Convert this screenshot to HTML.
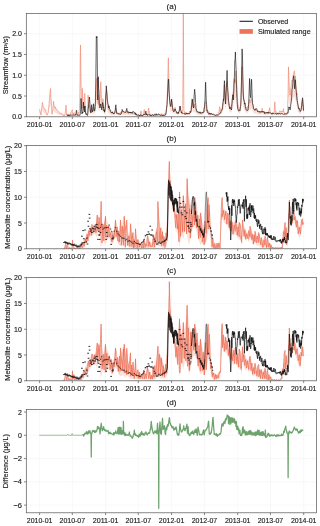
<!DOCTYPE html>
<html><head><meta charset="utf-8"><style>
html,body{margin:0;padding:0;background:#fff;}
svg{display:block;will-change:transform;}
text{font-family:"Liberation Sans", sans-serif;font-size:7px;fill:#1a1a1a;stroke:#1a1a1a;stroke-width:0.14px;}
</style></head><body>
<svg width="320" height="526" viewBox="0 0 320 526">
<rect width="320" height="526" fill="#fff"/>
<clipPath id="clip0"><rect x="26.3" y="13.6" width="290.2" height="103.2"/></clipPath>
<path d="M39.6 13.6V116.8M72.32 13.6V116.8M105.58 13.6V116.8M138.3 13.6V116.8M171.56 13.6V116.8M204.46 13.6V116.8M237.72 13.6V116.8M270.44 13.6V116.8M303.7 13.6V116.8M26.3 116.8H316.5M26.3 96.03H316.5M26.3 75.25H316.5M26.3 54.48H316.5M26.3 33.7H316.5" stroke="#f3f3f3" stroke-width="0.6" fill="none"/>
<g clip-path="url(#clip0)"><path d="M39.5 109.4L40 111.13L40.5 113L41 115L41.5 108.99L42 106.03L42.25 102.5L42.5 102.49L43 106L43.5 107.26L44 108L44.5 109.23L45 110L45.5 109.58L46 112L46.5 113.41L47 115L47.5 114.02L48 113L48.5 108.37L49 105L49.5 97.46L50 93.27L50.4 88.5L50.5 88.75L51 98.66L51.2 100L51.5 105.65L52 114L52.5 111.33L53 108L53.5 101.3L54 105.23L54.5 106L55 108.04L55.5 107L56 109.51L56.5 109.21L57 110L57.5 110.63L58 111.24L58.5 111.45L59 112L59.5 113.26L60 112.8L60.5 112.98L61 113.5L61.5 113.31L62 114.48L62.5 114.47L63 114.5L63.5 115.58L64 114.77L64.5 115.68L65 114.5L65.5 110.92L66 105L66.5 111.78L66.6 114L67 115.37L67.5 113.88L68 114.5L68.5 114.45L69 114.91L69.5 114.64L70 115L70.5 113.49L71 111.91L71.5 111.55L72 110.65L72.2 109.7L72.5 112.51L72.8 114.5L73 114.72L73.5 113.36L74 112.5L74.5 114.21L75 115L75.5 114.32L76 115.73L76.5 115.21L77 114.5L77.5 114.66L78 114.97L78.5 112.22L79 113L79.5 107.56L79.8 100L80 80.74L80.2 60L80.5 45L80.9 70L81 78.95L81.3 100L81.5 101.19L81.8 108L82 102.9L82.3 88.3L82.5 93.15L82.8 105L83 107.4L83.4 110L83.5 108.89L84 103.34L84.2 100L84.5 95.62L84.8 93.3L85 100.55L85.4 110L85.5 110.73L86 114L86.5 114.05L87 114.5L87.5 108.35L87.7 108L88 101.95L88.1 95.1L88.5 103.77L88.6 108L89 105.53L89.4 105L89.5 106.39L90 110.01L90.2 112L90.5 111.59L91 110L91.5 107.1L91.7 108L92 109.32L92.5 112L93 110.17L93.5 108L94 109.2L94.5 110L95 107.97L95.4 106L95.5 104.37L96 95L96.5 85.2L96.7 78.3L97 79.29L97.3 90L97.5 97.38L97.8 100L98 103.51L98.3 95L98.5 98.39L98.8 103L99 103.97L99.3 105L99.5 102.54L99.8 100L100 96.34L100.3 90L100.5 87.01L100.8 81.7L101 86.29L101.3 95L101.5 97.58L101.8 105L102 106.66L102.3 108L102.5 105.74L102.9 100L103 98.76L103.5 108L104 109.72L104.2 111L104.5 111.97L104.8 111.5L105 107.36L105.4 105L105.5 101.87L106 92L106.5 90L107 98L107.5 104L108 107.1L108.3 108L108.5 109.4L109 108.91L109.5 110L110 111.31L110.5 112.1L111 112L111.5 113.21L112 113.03L112.5 112.36L113 113.4L113.5 113.56L114 114.09L114.5 112.68L115 113L115.5 109.82L115.8 108L116 108.42L116.5 112L117 111.56L117.5 112.83L118 113.17L118.5 113.47L119 113.8L119.5 114.18L120 112.79L120.5 112.03L121 112.49L121.5 112.46L122 112L122.5 112.3L123 112.78L123.5 112.91L124 112.5L124.5 112.5L125 112.54L125.5 111.99L126 112.55L126.5 110.88L126.75 111L127 111.26L127.5 112.7L128 112.5L128.5 114.07L129 112.63L129.5 111.97L130 113.22L130.5 113.12L131 113.24L131.5 112.52L132 113L132.5 113.69L133 112.65L133.5 113.56L134 113.5L134.5 113.21L135 113.98L135.5 114.38L136 114.5L136.5 115.45L137 115.21L137.5 115.16L138 115.2L138.5 114.87L139 115.08L139.5 115.55L140 115.2L140.5 113.12L140.6 113L141 110.77L141.1 111.1L141.5 114.14L141.6 114.8L142 115.03L142.5 115L143 114.38L143.5 114.8L144 110.87L144.25 109.5L144.5 112.2L144.9 114.8L145 114.59L145.5 114.99L146 115.08L146.5 113.98L147 114.15L147.5 114.92L147.8 114.5L148 112.82L148.5 108.37L148.6 108L149 110.79L149.3 112L149.5 112.79L150 114.5L150.5 114.23L151 115.61L151.5 114.58L152 114.45L152.5 114.66L153 115L153.5 115.68L154 114.84L154.5 115.44L155 114.71L155.5 114.69L156 115L156.5 114.86L157 115.34L157.5 115.23L158 114.46L158.5 115.34L159 114.59L159.5 114.56L160 114.8L160.5 114.98L161 113.63L161.5 114.86L162 113.83L162.5 115.99L163 115L163.5 115.92L164 113.97L164.5 113.9L165 114L165.5 112.95L165.8 112L166 110.9L166.5 108L167 101.79L167.5 90L168 71.22L168.1 65L168.4 57.8L168.5 65.69L168.7 70L169 83.05L169.3 95L169.5 95.59L170 101.93L170.2 104L170.5 105.1L170.8 107L171 105.82L171.5 100.78L171.6 99.2L172 102.95L172.3 106L172.5 107.64L173 110.8L173.5 109.41L174 110L174.5 110.12L174.8 109L175 107.3L175.2 108.9L175.5 110.5L176 111L176.5 111.27L177 113L177.5 113.61L178 112.26L178.5 113.4L179 111.1L179.5 109L180 106.3L180.5 109.05L180.6 110L181 110.79L181.5 113L182 113L182.5 112.87L182.7 112L183 74.24L183.05 60L183.3 10L183.5 44.62L183.55 60L183.9 110L184 110.82L184.5 112.06L185 113L185.5 113.09L186 111.9L186.5 114.26L187 113.11L187.5 113.57L188 113.4L188.5 112.98L189 114.31L189.5 113.35L190 113L190.5 111.42L191 111L191.5 102.8L191.7 102L192 98.74L192.3 99.8L192.5 102.69L193 106L193.5 107.61L193.6 108L194 106.66L194.5 106.27L194.7 104L195 107.05L195.5 108L196 108.87L196.5 111L197 111.36L197.5 112.16L198 112.6L198.5 111.84L199 113.32L199.5 112.36L200 112.73L200.5 112.8L201 112.8L201.5 112.41L202 112.54L202.5 112.4L203 112.5L203.5 110.8L204 107.88L204.5 108L205 105.7L205.5 101.47L205.6 102.2L206 104.1L206.5 108L207 109.79L207.5 111L208 110.93L208.5 112.59L209 111.74L209.5 113.51L210 113.5L210.5 113.95L211 113.65L211.5 113.53L212 113.66L212.5 113.84L213 114.5L213.5 114.69L214 115.17L214.5 114.46L215 114.68L215.5 115.41L216 115L216.5 114.37L217 114.65L217.5 115.13L218 114.5L218.5 112.34L219 111.76L219.2 110L219.5 108.83L219.7 106.7L220 107.99L220.3 110L220.5 111.2L221 109.74L221.5 109.6L222 109.07L222.5 106L223 102.33L223.4 101L223.5 100.45L224 91.05L224.4 85L224.5 89.98L225 95L225.5 99.67L225.6 100L226 93.03L226.5 88L227 81.46L227.1 81.5L227.5 91.47L227.8 92L228 92.67L228.5 100L229 102.27L229.5 106.7L230 107.71L230.5 108L231 105.6L231.5 106L232 103.1L232.2 100L232.5 98.81L232.7 97.8L233 92.52L233.4 90L233.5 85.93L234 78.79L234.2 79.3L234.5 82.53L234.8 80L235 83.37L235.5 75L236 71.01L236.2 71.1L236.5 81.95L236.8 85L237 89.27L237.3 95L237.5 99.83L238 105L238.5 106.27L239 109.6L239.5 109.14L240 110L240.5 104.38L241 100L241.5 83.29L241.6 80L242 69.21L242.1 66.7L242.5 76.42L242.7 80L243 86.67L243.3 95L243.5 96.02L244 100L244.5 101.41L245 104L245.5 106.45L246 108L246.5 107.35L247 110L247.5 108.42L248 105.98L248.5 106L249 101.32L249.5 101.15L249.6 99.3L250 102.82L250.5 102L251 98.23L251.5 98L252 101.52L252.5 104L253 105.91L253.5 108L254 109.22L254.5 110L255 109.69L255.5 109.6L256 110.59L256.5 109.6L257 110.15L257.5 110.89L258 111L258.5 111.26L259 113.18L259.5 111.17L260 112L260.5 111.43L261 112.59L261.5 111L262 109.24L262.1 108.1L262.5 110.68L262.7 112L263 111.7L263.5 112.35L264 111.66L264.5 112.77L265 113L265.5 113.68L266 113.52L266.5 112.69L267 113.58L267.5 112.73L268 113.3L268.5 111.57L269 110.78L269.1 111L269.5 107.78L269.6 108.1L270 110.83L270.2 112L270.5 112.26L271 113.05L271.5 113.46L272 113.5L272.5 114.13L273 113.17L273.5 113.18L274 113.11L274.2 112L274.5 106.7L274.8 101.7L275 104.63L275.4 112L275.5 112.31L276 111.56L276.5 112.25L277 112.59L277.5 113.97L278 114L278.5 114.24L279 112.31L279.5 112L280 110.7L280.5 112L281 111.79L281.5 111.5L282 111.71L282.5 111.13L282.8 112L283 111.15L283.4 108.8L283.5 108.77L284 112L284.5 113.09L285 114.45L285.5 113.77L286 114L286.5 112.79L287 114.35L287.5 113L288 95L288.5 66.8L289 80L289.5 92L290 92.91L290.1 95.2L290.5 92.41L290.8 88L291 87L291.4 82.3L291.5 81.9L292 80.03L292.2 80L292.5 81.13L293 76L293.5 73.37L293.6 73.3L294 71.96L294.5 70.79L294.6 73.3L295 78.14L295.3 78L295.5 76.27L296 86L296.5 87.98L296.8 95L297 93.16L297.5 102L298 106.03L298.5 107L299 108.34L299.5 110L300 111.81L300.5 110.7L301 108.68L301.3 108L301.5 105.71L302 102L302.5 101.93L302.6 100L303 105.85L303.1 105L303.5 109.4L303.6 110.7L303.6 114.06L303.5 113.47L303.1 111.49L303 111.87L302.6 109.24L302.5 110.11L302 110.14L301.5 111.81L301.3 112.84L301 113.15L300.5 114.06L300 114.56L299.5 113.74L299 113L298.5 112.39L298 111.95L297.5 110.14L297 106.16L296.8 106.99L296.5 103.83L296 102.94L295.5 98.56L295.3 99.34L295 99.4L294.6 97.22L294.5 96.09L294 96.62L293.6 97.22L293.5 97.26L293 98.44L292.5 100.75L292.2 100.24L292 100.25L291.5 101.1L291.4 101.28L291 103.39L290.8 103.84L290.5 105.82L290.1 107.08L290 106.05L289.5 105.64L289 100.24L288.5 94.3L288 106.99L287.5 115.09L287 115.7L286.5 114.99L286 115.54L285.5 115.43L285 115.74L284.5 115.13L284 114.64L283.5 113.19L283.4 113.2L283 114.26L282.8 114.64L282.5 114.25L282 114.51L281.5 114.42L281 114.54L280.5 114.64L280 114.06L279.5 114.64L279 114.78L278.5 115.65L278 115.54L277.5 115.53L277 114.91L276.5 114.75L276 114.44L275.5 114.78L275.4 114.64L275 111.32L274.8 110L274.5 112.26L274.2 114.64L274 115.14L273.5 115.17L273 115.17L272.5 115.6L272 115.31L271.5 115.3L271 115.11L270.5 114.76L270.2 114.64L270 114.11L269.6 112.88L269.5 112.74L269.1 114.19L269 114.09L268.5 114.45L268 115.22L267.5 114.97L267 115.35L266.5 114.95L266 115.32L265.5 115.39L265 115.09L264.5 114.99L264 114.49L263.5 114.8L263 114.51L262.7 114.64L262.5 114.04L262.1 112.88L262 113.4L261.5 114.19L261 114.91L260.5 114.38L260 114.64L259.5 114.27L259 115.17L258.5 114.31L258 114.19L257.5 114.14L257 113.81L256.5 113.56L256 114.01L255.5 113.56L255 113.6L254.5 113.74L254 113.39L253.5 112.84L253 111.9L252.5 111.04L252 109.93L251.5 108.34L251 108.44L250.5 110.14L250 110.51L249.6 108.92L249.5 109.76L249 109.83L248.5 111.94L248 111.93L247.5 113.03L247 113.74L246.5 112.55L246 112.84L245.5 112.14L245 111.04L244.5 109.87L244 109.24L243.5 107.45L243.3 106.99L243 103.24L242.7 100.24L242.5 98.63L242.1 94.25L242 95.39L241.6 100.24L241.5 101.72L241 109.24L240.5 111.21L240 113.74L239.5 113.35L239 113.56L238.5 112.06L238 111.49L237.5 109.16L237.3 106.99L237 104.41L236.8 102.49L236.5 101.12L236.2 96.23L236 96.19L235.5 97.99L235 101.76L234.8 100.24L234.5 101.38L234.2 99.92L234 99.69L233.5 102.91L233.4 104.74L233 105.87L232.7 108.25L232.5 108.7L232.2 109.24L232 110.63L231.5 111.94L231 111.76L230.5 112.84L230 112.71L229.5 112.25L229 110.26L228.5 109.24L228 105.94L227.8 105.64L227.5 105.4L227.1 100.91L227 100.9L226.5 103.84L226 106.1L225.6 109.24L225.5 109.09L225 106.99L224.5 104.73L224.4 102.49L224 105.21L223.5 109.44L223.4 109.69L223 110.29L222.5 111.94L222 113.32L221.5 113.56L221 113.62L220.5 114.28L220.3 113.74L220 112.83L219.7 112.25L219.5 113.21L219.2 113.74L219 114.53L218.5 114.79L218 115.77L217.5 116.05L217 115.83L216.5 115.71L216 115.99L215.5 116.17L215 115.84L214.5 115.75L214 116.07L213.5 115.85L213 115.77L212.5 115.47L212 115.39L211.5 115.33L211 115.38L210.5 115.52L210 115.31L209.5 115.32L209 114.52L208.5 114.91L208 114.16L207.5 114.19L207 113.65L206.5 112.84L206 111.08L205.6 110.23L205.5 109.9L205 111.81L204.5 112.84L204 112.78L203.5 114.1L203 114.86L202.5 114.82L202 114.88L201.5 114.82L201 115L200.5 115L200 114.97L199.5 114.8L199 115.23L198.5 114.57L198 114.91L197.5 114.71L197 114.35L196.5 114.19L196 113.23L195.5 112.84L195 112.41L194.7 111.04L194.5 112.06L194 112.24L193.6 112.84L193.5 112.67L193 111.94L192.5 110.45L192.3 109.15L192 108.67L191.7 110.14L191.5 110.5L191 114.19L190.5 114.38L190 115.09L189.5 115.25L189 115.68L188.5 115.08L188 115.27L187.5 115.35L187 115.14L186.5 115.66L186 114.6L185.5 115.13L185 115.09L184.5 114.67L184 114.11L183.9 113.74L183.55 91.24L183.5 84.32L183.3 68.74L183.05 91.24L183 97.65L182.7 114.64L182.5 115.03L182 115.09L181.5 115.09L181 114.1L180.6 113.74L180.5 113.31L180 112.08L179.5 113.29L179 114.23L178.5 115.27L178 114.76L177.5 115.37L177 115.09L176.5 114.31L176 114.19L175.5 113.96L175.2 113.25L175 112.53L174.8 113.29L174.5 113.79L174 113.74L173.5 113.47L173 114.1L172.5 112.68L172.3 111.94L172 110.57L171.6 108.88L171.5 109.59L171 111.86L170.8 112.39L170.5 111.53L170.2 111.04L170 110.11L169.5 107.26L169.3 106.99L169 101.61L168.7 95.74L168.5 93.8L168.4 90.25L168.1 93.49L168 96.29L167.5 104.74L167 110.05L166.5 112.84L166 114.14L165.8 114.64L165.5 115.07L165 115.54L164.5 115.49L164 115.53L163.5 116.41L163 115.99L162.5 116.44L162 115.47L161.5 115.93L161 115.37L160.5 115.98L160 115.9L159.5 115.79L159 115.81L158.5 116.14L158 115.75L157.5 116.09L157 116.14L156.5 115.93L156 115.99L155.5 115.85L155 115.86L154.5 116.19L154 115.92L153.5 116.3L153 115.99L152.5 115.84L152 115.74L151.5 115.8L151 116.27L150.5 115.64L150 115.77L149.5 115L149.3 114.64L149 114.1L148.6 112.84L148.5 113.01L148 115.01L147.8 115.77L147.5 115.95L147 115.61L146.5 115.53L146 116.03L145.5 115.99L145 115.81L144.9 115.9L144.5 114.73L144.25 113.52L144 114.13L143.5 115.9L143 115.71L142.5 115.99L142 116L141.6 115.9L141.5 115.6L141.1 114.23L141 114.09L140.6 115.09L140.5 115.14L140 116.08L139.5 116.24L139 116.03L138.5 115.93L138 116.08L137.5 116.06L137 116.08L136.5 116.19L136 115.77L135.5 115.71L135 115.53L134.5 115.18L134 115.31L133.5 115.34L133 114.93L132.5 115.4L132 115.09L131.5 114.88L131 115.2L130.5 115.14L130 115.19L129.5 114.63L129 114.92L128.5 115.57L128 114.86L127.5 114.95L127 114.31L126.75 114.19L126.5 114.13L126 114.89L125.5 114.64L125 114.88L124.5 114.86L124 114.86L123.5 115.05L123 114.99L122.5 114.78L122 114.64L121.5 114.85L121 114.86L120.5 114.65L120 114.99L119.5 115.62L119 115.45L118.5 115.3L118 115.17L117.5 115.01L117 114.44L116.5 114.64L116 113.03L115.8 112.84L115.5 113.66L115 115.09L114.5 114.95L114 115.58L113.5 115.34L113 115.27L112.5 114.8L112 115.1L111.5 115.19L111 114.64L110.5 114.69L110 114.33L109.5 113.74L109 113.25L108.5 113.47L108.3 112.84L108 112.43L107.5 111.04L107 108.34L106.5 104.74L106 105.64L105.5 110.08L105.4 111.49L105 112.55L104.8 114.41L104.5 114.63L104.2 114.19L104 113.61L103.5 112.84L103 108.68L102.9 109.24L102.5 111.82L102.3 112.84L102 112.24L101.8 111.49L101.5 108.15L101.3 106.99L101 103.07L100.8 101L100.5 103.39L100.3 104.74L100 107.59L99.8 109.24L99.5 110.38L99.3 111.49L99 111.03L98.8 110.59L98.5 108.51L98.3 106.99L98 110.82L97.8 109.24L97.5 108.06L97.3 104.74L97 99.92L96.7 99.47L96.5 102.58L96 106.99L95.5 111.21L95.4 111.94L95 112.82L94.5 113.74L94 113.38L93.5 112.84L93 113.82L92.5 114.64L92 113.44L91.7 112.84L91.5 112.43L91 113.74L90.5 114.46L90.2 114.64L90 113.74L89.5 112.11L89.4 111.49L89 111.73L88.6 112.84L88.5 110.94L88.1 107.03L88 110.12L87.7 112.84L87.5 113L87 115.77L86.5 115.56L86 115.54L85.5 114.07L85.4 113.74L85 109.49L84.8 106.22L84.5 107.27L84.2 109.24L84 110.74L83.5 113.24L83.4 113.74L83 112.57L82.8 111.49L82.5 106.16L82.3 103.97L82 110.55L81.8 112.84L81.5 109.77L81.3 109.24L81 99.77L80.9 95.74L80.5 84.49L80.2 91.24L80 100.57L79.8 109.24L79.5 112.64L79 115.09L78.5 114.74L78 115.98L77.5 115.84L77 115.77L76.5 116.08L76 116.32L75.5 115.69L75 115.99L74.5 115.63L74 114.86L73.5 115.25L73 115.86L72.8 115.77L72.5 114.87L72.2 113.61L72 114.03L71.5 114.44L71 114.6L70.5 115.31L70 115.99L69.5 115.83L69 115.95L68.5 115.74L68 115.77L67.5 115.49L67 116.16L66.6 115.54L66.5 114.54L66 111.49L65.5 114.15L65 115.77L64.5 116.3L64 115.89L63.5 116.25L63 115.77L62.5 115.75L62 115.76L61.5 115.23L61 115.31L60.5 115.08L60 115L59.5 115.21L59 114.64L58.5 114.39L58 114.3L57.5 114.03L57 113.74L56.5 113.38L56 113.52L55.5 112.39L55 112.86L54.5 111.94L54 111.6L53.5 109.83L53 112.84L52.5 114.34L52 115.54L51.5 111.78L51.2 109.24L51 108.64L50.5 104.18L50.4 104.06L50 106.21L49.5 108.1L49 111.49L48.5 113.01L48 115.09L47.5 115.55L47 115.99L46.5 115.27L46 114.64L45.5 113.55L45 113.74L44.5 113.39L44 112.84L43.5 112.51L43 111.94L42.5 110.36L42.25 110.36L42 111.95L41.5 113.29L41 115.99L40.5 115.09L40 114.25L39.5 113.47Z" fill="#f4a08a" fill-opacity="0.35" stroke="none"/>
<path d="M39.5 109.4L40 111.13L40.5 113L41 115L41.5 108.99L42 106.03L42.25 102.5L42.5 102.49L43 106L43.5 107.26L44 108L44.5 109.23L45 110L45.5 109.58L46 112L46.5 113.41L47 115L47.5 114.02L48 113L48.5 108.37L49 105L49.5 97.46L50 93.27L50.4 88.5L50.5 88.75L51 98.66L51.2 100L51.5 105.65L52 114L52.5 111.33L53 108L53.5 101.3L54 105.23L54.5 106L55 108.04L55.5 107L56 109.51L56.5 109.21L57 110L57.5 110.63L58 111.24L58.5 111.45L59 112L59.5 113.26L60 112.8L60.5 112.98L61 113.5L61.5 113.31L62 114.48L62.5 114.47L63 114.5L63.5 115.58L64 114.77L64.5 115.68L65 114.5L65.5 110.92L66 105L66.5 111.78L66.6 114L67 115.37L67.5 113.88L68 114.5L68.5 114.45L69 114.91L69.5 114.64L70 115L70.5 113.49L71 111.91L71.5 111.55L72 110.65L72.2 109.7L72.5 112.51L72.8 114.5L73 114.72L73.5 113.36L74 112.5L74.5 114.21L75 115L75.5 114.32L76 115.73L76.5 115.21L77 114.5L77.5 114.66L78 114.97L78.5 112.22L79 113L79.5 107.56L79.8 100L80 80.74L80.2 60L80.5 45L80.9 70L81 78.95L81.3 100L81.5 101.19L81.8 108L82 102.9L82.3 88.3L82.5 93.15L82.8 105L83 107.4L83.4 110L83.5 108.89L84 103.34L84.2 100L84.5 95.62L84.8 93.3L85 100.55L85.4 110L85.5 110.73L86 114L86.5 114.05L87 114.5L87.5 108.35L87.7 108L88 101.95L88.1 95.1L88.5 103.77L88.6 108L89 105.53L89.4 105L89.5 106.39L90 110.01L90.2 112L90.5 111.59L91 110L91.5 107.1L91.7 108L92 109.32L92.5 112L93 110.17L93.5 108L94 109.2L94.5 110L95 107.97L95.4 106L95.5 104.37L96 95L96.5 85.2L96.7 78.3L97 79.29L97.3 90L97.5 97.38L97.8 100L98 103.51L98.3 95L98.5 98.39L98.8 103L99 103.97L99.3 105L99.5 102.54L99.8 100L100 96.34L100.3 90L100.5 87.01L100.8 81.7L101 86.29L101.3 95L101.5 97.58L101.8 105L102 106.66L102.3 108L102.5 105.74L102.9 100L103 98.76L103.5 108L104 109.72L104.2 111L104.5 111.97L104.8 111.5L105 107.36L105.4 105L105.5 101.87L106 92L106.5 90L107 98L107.5 104L108 107.1L108.3 108L108.5 109.4L109 108.91L109.5 110L110 111.31L110.5 112.1L111 112L111.5 113.21L112 113.03L112.5 112.36L113 113.4L113.5 113.56L114 114.09L114.5 112.68L115 113L115.5 109.82L115.8 108L116 108.42L116.5 112L117 111.56L117.5 112.83L118 113.17L118.5 113.47L119 113.8L119.5 114.18L120 112.79L120.5 112.03L121 112.49L121.5 112.46L122 112L122.5 112.3L123 112.78L123.5 112.91L124 112.5L124.5 112.5L125 112.54L125.5 111.99L126 112.55L126.5 110.88L126.75 111L127 111.26L127.5 112.7L128 112.5L128.5 114.07L129 112.63L129.5 111.97L130 113.22L130.5 113.12L131 113.24L131.5 112.52L132 113L132.5 113.69L133 112.65L133.5 113.56L134 113.5L134.5 113.21L135 113.98L135.5 114.38L136 114.5L136.5 115.45L137 115.21L137.5 115.16L138 115.2L138.5 114.87L139 115.08L139.5 115.55L140 115.2L140.5 113.12L140.6 113L141 110.77L141.1 111.1L141.5 114.14L141.6 114.8L142 115.03L142.5 115L143 114.38L143.5 114.8L144 110.87L144.25 109.5L144.5 112.2L144.9 114.8L145 114.59L145.5 114.99L146 115.08L146.5 113.98L147 114.15L147.5 114.92L147.8 114.5L148 112.82L148.5 108.37L148.6 108L149 110.79L149.3 112L149.5 112.79L150 114.5L150.5 114.23L151 115.61L151.5 114.58L152 114.45L152.5 114.66L153 115L153.5 115.68L154 114.84L154.5 115.44L155 114.71L155.5 114.69L156 115L156.5 114.86L157 115.34L157.5 115.23L158 114.46L158.5 115.34L159 114.59L159.5 114.56L160 114.8L160.5 114.98L161 113.63L161.5 114.86L162 113.83L162.5 115.99L163 115L163.5 115.92L164 113.97L164.5 113.9L165 114L165.5 112.95L165.8 112L166 110.9L166.5 108L167 101.79L167.5 90L168 71.22L168.1 65L168.4 57.8L168.5 65.69L168.7 70L169 83.05L169.3 95L169.5 95.59L170 101.93L170.2 104L170.5 105.1L170.8 107L171 105.82L171.5 100.78L171.6 99.2L172 102.95L172.3 106L172.5 107.64L173 110.8L173.5 109.41L174 110L174.5 110.12L174.8 109L175 107.3L175.2 108.9L175.5 110.5L176 111L176.5 111.27L177 113L177.5 113.61L178 112.26L178.5 113.4L179 111.1L179.5 109L180 106.3L180.5 109.05L180.6 110L181 110.79L181.5 113L182 113L182.5 112.87L182.7 112L183 74.24L183.05 60L183.3 10L183.5 44.62L183.55 60L183.9 110L184 110.82L184.5 112.06L185 113L185.5 113.09L186 111.9L186.5 114.26L187 113.11L187.5 113.57L188 113.4L188.5 112.98L189 114.31L189.5 113.35L190 113L190.5 111.42L191 111L191.5 102.8L191.7 102L192 98.74L192.3 99.8L192.5 102.69L193 106L193.5 107.61L193.6 108L194 106.66L194.5 106.27L194.7 104L195 107.05L195.5 108L196 108.87L196.5 111L197 111.36L197.5 112.16L198 112.6L198.5 111.84L199 113.32L199.5 112.36L200 112.73L200.5 112.8L201 112.8L201.5 112.41L202 112.54L202.5 112.4L203 112.5L203.5 110.8L204 107.88L204.5 108L205 105.7L205.5 101.47L205.6 102.2L206 104.1L206.5 108L207 109.79L207.5 111L208 110.93L208.5 112.59L209 111.74L209.5 113.51L210 113.5L210.5 113.95L211 113.65L211.5 113.53L212 113.66L212.5 113.84L213 114.5L213.5 114.69L214 115.17L214.5 114.46L215 114.68L215.5 115.41L216 115L216.5 114.37L217 114.65L217.5 115.13L218 114.5L218.5 112.34L219 111.76L219.2 110L219.5 108.83L219.7 106.7L220 107.99L220.3 110L220.5 111.2L221 109.74L221.5 109.6L222 109.07L222.5 106L223 102.33L223.4 101L223.5 100.45L224 91.05L224.4 85L224.5 89.98L225 95L225.5 99.67L225.6 100L226 93.03L226.5 88L227 81.46L227.1 81.5L227.5 91.47L227.8 92L228 92.67L228.5 100L229 102.27L229.5 106.7L230 107.71L230.5 108L231 105.6L231.5 106L232 103.1L232.2 100L232.5 98.81L232.7 97.8L233 92.52L233.4 90L233.5 85.93L234 78.79L234.2 79.3L234.5 82.53L234.8 80L235 83.37L235.5 75L236 71.01L236.2 71.1L236.5 81.95L236.8 85L237 89.27L237.3 95L237.5 99.83L238 105L238.5 106.27L239 109.6L239.5 109.14L240 110L240.5 104.38L241 100L241.5 83.29L241.6 80L242 69.21L242.1 66.7L242.5 76.42L242.7 80L243 86.67L243.3 95L243.5 96.02L244 100L244.5 101.41L245 104L245.5 106.45L246 108L246.5 107.35L247 110L247.5 108.42L248 105.98L248.5 106L249 101.32L249.5 101.15L249.6 99.3L250 102.82L250.5 102L251 98.23L251.5 98L252 101.52L252.5 104L253 105.91L253.5 108L254 109.22L254.5 110L255 109.69L255.5 109.6L256 110.59L256.5 109.6L257 110.15L257.5 110.89L258 111L258.5 111.26L259 113.18L259.5 111.17L260 112L260.5 111.43L261 112.59L261.5 111L262 109.24L262.1 108.1L262.5 110.68L262.7 112L263 111.7L263.5 112.35L264 111.66L264.5 112.77L265 113L265.5 113.68L266 113.52L266.5 112.69L267 113.58L267.5 112.73L268 113.3L268.5 111.57L269 110.78L269.1 111L269.5 107.78L269.6 108.1L270 110.83L270.2 112L270.5 112.26L271 113.05L271.5 113.46L272 113.5L272.5 114.13L273 113.17L273.5 113.18L274 113.11L274.2 112L274.5 106.7L274.8 101.7L275 104.63L275.4 112L275.5 112.31L276 111.56L276.5 112.25L277 112.59L277.5 113.97L278 114L278.5 114.24L279 112.31L279.5 112L280 110.7L280.5 112L281 111.79L281.5 111.5L282 111.71L282.5 111.13L282.8 112L283 111.15L283.4 108.8L283.5 108.77L284 112L284.5 113.09L285 114.45L285.5 113.77L286 114L286.5 112.79L287 114.35L287.5 113L288 95L288.5 66.8L289 80L289.5 92L290 92.91L290.1 95.2L290.5 92.41L290.8 88L291 87L291.4 82.3L291.5 81.9L292 80.03L292.2 80L292.5 81.13L293 76L293.5 73.37L293.6 73.3L294 71.96L294.5 70.79L294.6 73.3L295 78.14L295.3 78L295.5 76.27L296 86L296.5 87.98L296.8 95L297 93.16L297.5 102L298 106.03L298.5 107L299 108.34L299.5 110L300 111.81L300.5 110.7L301 108.68L301.3 108L301.5 105.71L302 102L302.5 101.93L302.6 100L303 105.85L303.1 105L303.5 109.4L303.6 110.7" fill="none" stroke="#ef7e64" stroke-opacity="0.8" stroke-width="0.7" stroke-linejoin="round"/>
<path d="M66.6 114.8L67.1 115.4L67.6 115.46L68.1 114.73L68.6 116.09L69.1 115.23L69.6 116.21L70 115.3L70.1 114.82L70.6 115.17L71.1 114.64L71.6 115.4L72.1 114.97L72.6 115.23L73.1 115.39L73.6 114.97L74 115L74.1 115.54L74.6 115.09L75.1 114.57L75.6 114.8L75.8 114.8L76.1 112.73L76.4 110.2L76.6 110.49L77 115L77.1 114.99L77.6 115.33L78.1 115.06L78.6 115.42L79.1 115.42L79.5 115.3L79.6 115.49L80 115.5L80.1 114.02L80.6 112L81 98.5L81.1 100.37L81.5 108L81.6 109.07L82 114L82.1 113.54L82.6 112.19L82.8 113L83.1 108.46L83.5 102L83.6 103.84L84 108L84.1 106.79L84.6 112L85 106L85.1 108.6L85.5 113L85.6 113.49L86 114.5L86.1 114.24L86.6 113.77L87 115L87.1 115.3L87.6 115.41L87.8 114L88.1 110.13L88.5 106L88.6 105.49L89.1 100.46L89.4 97L89.6 99.11L90 105L90.1 106.21L90.5 112L90.6 112.03L91 113L91.1 112.07L91.6 104.73L91.7 104.7L92.1 108.5L92.3 112L92.6 111.12L93 110L93.1 109.1L93.5 103.8L93.6 104.13L94.1 109.64L94.2 111L94.6 111.03L94.8 110L95.1 106.41L95.4 102L95.6 89.28L95.8 80L96.1 54.24L96.3 36.5L96.6 37.94L97 36.5L97.1 44.04L97.4 70L97.6 90.06L97.7 100L98 95L98.1 88.9L98.3 76.7L98.6 88.46L98.8 90L99.1 96.83L99.3 105L99.6 106.63L99.8 108L100.1 107.55L100.3 106L100.6 103.87L100.8 104L101.1 106.13L101.3 108L101.6 109.19L101.8 110L102.1 106.75L102.3 106L102.6 102.49L102.9 103.3L103.1 104.34L103.5 108L103.6 107.4L104 111L104.1 109.73L104.6 112.22L104.7 111.7L105.1 109.61L105.3 108L105.6 99.28L105.8 95L106.1 92.41L106.3 85.8L106.6 89.98L106.8 92L107.1 95.05L107.3 100L107.6 100.84L107.8 103.3L108.1 103.9L108.5 106L108.6 107.96L109.1 105.92L109.5 109L109.6 108.8L110.1 109.68L110.5 111L110.6 110.75L111.1 112.46L111.6 112.6L112 112L112.1 112.85L112.6 111.79L113 113.4L113.1 113.83L113.6 113.53L114.1 113.53L114.5 113.4L114.6 112.67L115.1 110.53L115.3 110L115.6 106.65L115.8 104.8L116.1 108.92L116.3 110L116.6 113.43L117 113.5L117.1 113.44L117.6 113.51L118.1 113.16L118.6 113.95L119 114L119.1 114.29L119.6 113.74L120.1 114.66L120.6 114.36L121 113.8L121.1 114.04L121.6 111.95L122 111L122.1 109.47L122.4 110.3L122.6 110.37L123 112L123.1 111.33L123.6 111.86L124 112L124.1 111.84L124.6 112.27L125 112L125.1 112L125.6 112.56L126.1 110.99L126.2 110L126.6 109.8L126.75 108.4L127.1 110.14L127.3 112L127.6 111.83L128 112.5L128.1 111.88L128.6 111.78L129.1 112.94L129.6 112.32L130 113L130.1 111.92L130.6 112.85L131.1 112.12L131.6 112.69L132 112.5L132.1 113.32L132.6 111.83L133 111.5L133.1 112.05L133.6 111.73L134 112L134.1 112.37L134.6 112.42L135 113L135.1 114.29L135.6 112.87L136 114.5L136.1 113.91L136.6 114.87L137.1 115.29L137.6 115.06L138 115.2L138.1 114.91L138.6 115.05L139.1 115.08L139.6 116.12L140 115.3L140.1 115.78L140.6 114.7L141.1 115.14L141.6 115.87L142 115.2L142.1 115.56L142.6 115.75L143.1 115.5L143.6 114.47L144.1 115.02L144.6 114.35L145 114.8L145.1 114.25L145.6 112.92L145.8 111.1L146.1 113.31L146.4 114.8L146.6 113.78L147.1 115.23L147.6 115.42L148 115L148.1 114.46L148.6 115.02L149.1 115.11L149.6 114.52L150 115.2L150.1 115.96L150.6 114.98L151.1 115.59L151.6 115.72L152.1 115.42L152.6 114.51L153 115L153.1 115.06L153.6 115.79L154.1 115.43L154.6 114.2L155.1 114.39L155.6 115.33L156 114.8L156.1 113.67L156.6 114.88L157.1 115.19L157.6 114.62L158 114.5L158.1 114.08L158.6 113.9L159.1 114.3L159.6 115.09L160 115L160.1 115.25L160.6 115.65L161.1 115.03L161.6 115.27L162.1 114.89L162.6 115.57L163 115L163.1 115.22L163.6 115.34L164.1 115.44L164.6 115.38L165 114.8L165.1 115.19L165.6 114.89L166 114L166.1 112.79L166.6 108.52L167 105L167.1 104.52L167.6 92.96L167.8 90L168.1 83.97L168.4 79.1L168.6 79.67L169 90L169.1 91.99L169.6 100L170.1 103.96L170.4 106L170.6 106.31L171 105L171.1 103.91L171.6 99.2L172.1 103.56L172.3 106L172.6 107.57L173 110L173.1 110.43L173.6 111.15L173.8 112L174.1 111.19L174.6 110L175.1 108.9L175.2 108.9L175.6 110.61L176 111L176.1 111.07L176.6 112.79L177 113L177.1 113.49L177.6 113.07L178.1 112.16L178.5 113.4L178.6 112.51L179.1 111.36L179.5 110L179.6 109.39L180 106.3L180.1 106.06L180.6 110L181.1 110.81L181.5 113L181.6 112.35L182.1 113.26L182.6 113.19L183 113.4L183.1 113.58L183.6 113.55L184.1 113.85L184.6 113.53L185 113.4L185.1 114.55L185.6 114.04L186.1 113.17L186.6 113.89L187.1 113.11L187.6 114.09L188 113.4L188.1 113.57L188.6 113.01L189.1 113.64L189.6 113.32L190 112.8L190.1 111.26L190.6 112.43L191 111.5L191.1 111.06L191.6 106L192.1 101.81L192.3 99.2L192.6 102.08L193 106L193.1 106.36L193.6 108L194.1 95.83L194.2 95L194.6 89.25L194.7 89.5L195.1 94.52L195.2 95L195.6 102.72L195.8 106L196.1 108.88L196.5 110L196.6 111.21L197.1 111.48L197.6 111.39L198 112.5L198.1 112.46L198.6 112.19L199.1 112.24L199.6 112.99L200 113L200.1 111.84L200.6 113.29L201.1 113.35L201.6 113.24L202 113L202.1 112.32L202.6 112.78L203.1 112.88L203.6 111.94L204 112L204.1 110.05L204.6 104.91L205 100L205.1 97.38L205.6 82.2L206.1 95.55L206.2 100L206.6 104.58L207 111L207.1 110.59L207.6 112.65L208 113L208.1 112.89L208.6 113.11L209.1 114.49L209.6 113.19L210 114L210.1 113.97L210.6 114.27L211.1 113.07L211.6 114.2L212.1 114.7L212.6 114.46L213 114.5L213.1 114.25L213.6 114.22L214.1 114.71L214.6 115.17L215.1 115.17L215.6 115.3L216 115L216.1 115.47L216.6 115.01L217.1 115.22L217.6 114.98L218 115L218.1 115.31L218.6 115.01L219.1 114.36L219.5 114L219.6 114.04L220.1 112.58L220.6 113.05L221 112L221.1 111.61L221.6 110.43L222.1 110.05L222.5 108L222.6 106.41L223.1 102.01L223.4 99.3L223.6 100.39L223.9 95L224.1 88.22L224.4 80.7L224.6 83.63L225 95L225.1 97.61L225.6 104L226.1 91.42L226.3 90L226.6 82.32L227.1 70.4L227.6 87.35L227.7 88L228.1 94.03L228.4 100L228.6 101.63L229.1 105.6L229.5 106.7L229.6 108.69L230.1 107.28L230.5 108L230.6 108.79L231.1 108.72L231.5 110L231.6 108.27L232.1 102.02L232.2 100L232.6 96.6L232.7 94.8L233.1 95.96L233.3 100L233.6 92.71L233.8 92L234.1 83.3L234.3 80L234.6 69.01L234.8 60L235.1 59.35L235.4 51.9L235.6 58.46L235.9 65L236.1 68.15L236.3 80L236.6 88.18L236.8 95L237.1 101.34L237.3 105L237.6 108.02L238 109.6L238.1 109.62L238.6 111.04L239 111L239.1 110.99L239.6 110.52L240 111L240.1 109.51L240.6 106.38L240.8 105L241.1 94.8L241.5 80L241.6 74.25L242.1 48.9L242.6 61.22L242.7 70L243.1 86.91L243.2 92L243.6 99.22L243.8 100L244.1 99.97L244.5 104L244.6 104.13L245.1 103.14L245.3 107L245.6 108.49L246 109.6L246.1 109.76L246.6 110.35L247 110.5L247.1 110.19L247.6 110.6L248 110L248.1 109.88L248.6 104.58L248.8 100L249.1 92.14L249.6 78.5L250.1 93.07L250.2 95L250.6 97.66L250.8 97.8L251.1 86.21L251.5 79.3L251.6 80.22L252.1 95L252.6 103.7L253.1 105.11L253.5 108L253.6 108.6L254.1 108.98L254.5 110L254.6 110.15L255.1 110.14L255.5 110L255.6 109.25L256.1 108.25L256.2 108.5L256.6 109.02L257 110L257.1 110L257.6 111.57L258 111L258.1 111.5L258.6 110.9L259.1 111.51L259.6 111.89L260 111.5L260.1 111.3L260.6 112.22L261.1 112.19L261.6 111.37L262 112L262.1 112.23L262.6 111.24L263.1 111.86L263.6 111.76L264 112.3L264.1 111.65L264.6 113.62L265.1 112.46L265.6 113.2L266 112.5L266.1 112.79L266.6 112.71L267.1 112.08L267.6 112.92L268 113L268.1 112.1L268.6 113.29L269.1 113.03L269.6 112.95L270 113L270.1 112.51L270.6 113.18L271.1 113.6L271.6 113.57L272 113.5L272.1 114.24L272.6 112.91L273.1 113.22L273.6 113.44L274.1 113.57L274.6 114.07L275 113.8L275.1 114.01L275.6 113.43L276.1 114.27L276.6 114.3L277.1 113.15L277.6 113.2L278 114L278.1 113.86L278.6 113.74L279.1 113.91L279.6 113.29L280.1 114.22L280.6 113.96L281 114L281.1 113.76L281.6 113.29L282.1 114.12L282.6 113.88L283.1 114.24L283.6 114.32L284 114L284.1 114.31L284.6 113.9L285.1 113.45L285.6 114.19L286 113.8L286.1 114.06L286.6 113.77L287.1 113.17L287.6 112.79L288 113L288.1 113.1L288.6 109.02L289 106.8L289.1 107.82L289.6 107.25L289.7 108L290.1 110L290.6 106.59L290.8 104L291.1 103.19L291.4 100L291.6 97.64L292 90L292.1 89.31L292.6 87.13L292.8 83.6L293.1 80.22L293.6 75.8L294.1 78.97L294.2 80L294.6 88.8L295.1 82.13L295.3 79.7L295.6 84.32L295.9 90L296.1 90.3L296.6 96L297.1 100.46L297.3 101L297.6 102.71L298 105L298.1 105.33L298.6 108.55L299 108L299.1 107.97L299.6 110.17L300 110.7L300.1 111.17L300.6 110.99L301 110.7L301.1 109.92L301.6 106.14L301.8 105L302.1 100.7L302.2 100L302.6 97.8L303.1 104L303.6 110.7" fill="none" stroke="#111" stroke-opacity="0.85" stroke-width="0.75" stroke-linejoin="round"/></g>
<rect x="26.3" y="13.6" width="290.2" height="103.2" fill="none" stroke="#555" stroke-width="0.7"/>
<path d="M39.6 116.8v2.3M72.32 116.8v2.3M105.58 116.8v2.3M138.3 116.8v2.3M171.56 116.8v2.3M204.46 116.8v2.3M237.72 116.8v2.3M270.44 116.8v2.3M303.7 116.8v2.3M26.3 116.8h-2.3M26.3 96.03h-2.3M26.3 75.25h-2.3M26.3 54.48h-2.3M26.3 33.7h-2.3" stroke="#555" stroke-width="0.7" fill="none"/>
<text x="39.6" y="126.6" text-anchor="middle" textLength="25.6" lengthAdjust="spacingAndGlyphs">2010-01</text>
<text x="72.32" y="126.6" text-anchor="middle" textLength="25.6" lengthAdjust="spacingAndGlyphs">2010-07</text>
<text x="105.58" y="126.6" text-anchor="middle" textLength="25.6" lengthAdjust="spacingAndGlyphs">2011-01</text>
<text x="138.3" y="126.6" text-anchor="middle" textLength="25.6" lengthAdjust="spacingAndGlyphs">2011-07</text>
<text x="171.56" y="126.6" text-anchor="middle" textLength="25.6" lengthAdjust="spacingAndGlyphs">2012-01</text>
<text x="204.46" y="126.6" text-anchor="middle" textLength="25.6" lengthAdjust="spacingAndGlyphs">2012-07</text>
<text x="237.72" y="126.6" text-anchor="middle" textLength="25.6" lengthAdjust="spacingAndGlyphs">2013-01</text>
<text x="270.44" y="126.6" text-anchor="middle" textLength="25.6" lengthAdjust="spacingAndGlyphs">2013-07</text>
<text x="303.7" y="126.6" text-anchor="middle" textLength="25.6" lengthAdjust="spacingAndGlyphs">2014-01</text>
<text x="21.9" y="119.3" text-anchor="end">0.0</text>
<text x="21.9" y="98.53" text-anchor="end">0.5</text>
<text x="21.9" y="77.75" text-anchor="end">1.0</text>
<text x="21.9" y="56.98" text-anchor="end">1.5</text>
<text x="21.9" y="36.2" text-anchor="end">2.0</text>
<text x="171.4" y="9.1" text-anchor="middle" style="font-size:8.1px">(a)</text>
<text transform="translate(7.9 65.2) rotate(-90)" x="0" y="0" text-anchor="middle" textLength="58.3" lengthAdjust="spacingAndGlyphs">Streamflow (m³/s)</text>
<clipPath id="clip1"><rect x="26.3" y="145.6" width="290.2" height="103.2"/></clipPath>
<path d="M39.6 145.6V248.8M72.32 145.6V248.8M105.58 145.6V248.8M138.3 145.6V248.8M171.56 145.6V248.8M204.46 145.6V248.8M237.72 145.6V248.8M270.44 145.6V248.8M303.7 145.6V248.8M26.3 248.8H316.5M26.3 223.03H316.5M26.3 197.25H316.5M26.3 171.48H316.5M26.3 145.7H316.5" stroke="#f3f3f3" stroke-width="0.6" fill="none"/>
<g clip-path="url(#clip1)"><path d="M63.5 248.8L64.5 248.6L65.6 241.9L66.2 248.6L67.5 242.5L68.2 248.6L70 247.5L72 248.6L72.5 240L73.2 248.6L73.75 243.75L74.5 248.6L76 247.8L77.5 246L78.2 248.6L80 247L81.9 242.5L83.12 241.25L84.38 238.75L85.62 236.25L86.88 233.75L88.75 228.75L90.62 226.25L91.88 224.38L93.75 226.25L95.62 225L97.25 215L98.75 216.25L100 217.5L101.12 201.25L101.75 220L103 223.75L104.25 225L105.5 216.25L106.75 220L108 223.75L109.25 226.25L110.5 230L111.75 231.25L113 232.5L114.25 228.75L115.5 220L116.75 223.75L118 231.25L119.25 228.75L120.5 220L121.75 226.25L123 217.5L124.25 216.25L125.5 226.25L126.75 220L128 232.5L129.25 233.75L130.5 223.75L131.75 236.25L133 232.5L134.25 240L135.5 228.75L136.75 240L137.9 239.52L139.81 241.43L141.71 245.24L143.62 239.52L145.52 243.33L147.43 235.71L149.33 239.52L151.24 245.24L153.14 235.71L155.05 233.81L156.95 226.19L157.9 201.43L158.86 216.67L159.81 222.38L160.76 226.19L162.67 230L164.57 239.52L166.48 226.19L167.43 207.14L168.38 184.29L169.33 161.43L170.29 176.67L171.24 188.1L172.19 197.62L173.14 203.33L174.1 207.14L175.71 210.95L177.62 216.67L179.52 191.9L181.43 207.14L183.33 195.71L185.24 205.24L187.14 178.57L189.05 197.62L190.95 205.24L192.86 205.24L194.76 197.62L196.67 203.33L198.57 216.67L200.48 212.86L202.38 222.38L204.29 226.19L206.19 207.14L208.1 197.62L210 207.14L210.71 230L212.62 237.62L213.57 241.43L216.43 243.33L220.24 241.43L221.19 207.14L222.14 197.62L223.1 207.14L224.05 209.05L225.95 210.95L227.86 212.86L229.76 218.57L231.67 220.48L233.57 222.38L235.48 220.48L237.38 224.29L239.29 222.38L241.19 226.19L241.25 233.75L242.5 220L243.75 225L245 227.5L246.25 231.25L247.5 232.5L248.75 230L250 226.25L251.25 228.75L252.5 232.5L253.75 235L255 231.25L256.25 236.25L257.5 233.75L258.75 232.5L260 238.75L261.25 237.5L262.5 240L263.75 237.5L265 236.25L266.25 240L267.5 237.5L268.75 241.25L270 243.75L271.25 245L272.5 246.88L273.75 247.5L275 247.5L277.5 247.5L280 247.5L281.25 247.5L282.5 240L283.75 226.25L285 222.5L285.62 237.5L286.25 227.5L287.5 233.75L288.75 213.75L289.38 200L290 208.75L291.25 216.25L292.5 221.25L293.75 210L295 215L296.25 217.5L297.5 220L298.75 223.75L300 227.5L301.25 220L302.5 218.75L303.5 222.5L303.5 227.5L302.5 225L301.25 231.25L300 238.75L298.75 236.25L297.5 231.25L296.25 227.5L295 223.75L293.75 220L292.5 223.75L291.25 225L290 220L288.75 225L287.5 246.25L286.25 245L285 240L283.75 241.25L282.5 248.75L280 248.75L270 248.75L267.5 248.12L265 247.5L262.5 248.12L261.25 246.25L260 247.5L258.75 245L257.5 246.25L256.25 245L255 242.5L253.75 245L252.5 243.75L251.25 240L250 237.5L248.75 242.5L247.5 237.5L246.25 241.25L245 240L243.75 237.5L242.5 231.25L241.25 248.75L241.19 241.43L239.29 239.52L237.38 237.62L235.48 233.81L233.57 235.71L231.67 233.81L229.76 230L227.86 226.19L225.95 224.29L224.05 222.38L222.14 218.57L221.19 230L220.24 248.86L212.62 248.86L210.71 247.14L210 226.19L208.1 231.9L206.19 241.43L204.29 246.19L202.38 243.33L200.48 245.24L198.57 239.52L196.67 231.9L194.76 226.19L192.86 228.1L190.95 237.62L189.05 245.24L187.14 235.71L185.24 230L183.33 239.52L181.43 233.81L179.52 247.14L177.62 233.81L175.71 230L174.1 214.76L172.19 205.24L170.29 195.71L169.33 188.1L168.38 199.52L167.43 241.43L166.48 246.19L164.57 248.1L160.76 247.14L158.86 246.19L156.95 245.24L155.05 248.1L145.52 248.1L138 248.5L135.5 248.5L134.25 248.12L133 248.12L131.75 248.12L130.5 248.12L129.25 247.5L128 246.25L126.75 245L125.5 247.5L124.25 246.25L123 245L121.75 246.25L120.5 246.25L119.25 245L118 242.5L116.75 238.75L115.5 237.5L114.25 240L113 243.75L111.75 245L110.5 242.5L109.25 237.5L108 238.75L106.75 241.25L105.5 243.75L104.25 242.5L103 238.75L101.75 245L100.5 248.12L100 231.25L98.75 232.5L96.88 237.5L95 233.75L92.5 235L90.62 236.25L88.75 240L87.5 242.5L86.25 244.38L85 245L83.75 247.5L82 248.8L63.5 248.8Z" fill="#f07458" fill-opacity="0.22" stroke="none"/>
<path d="M63.5 248.5L64.08 248.43L64.71 247.64L65.51 245.37L65.6 241.9L66.09 247.44L66.7 247.26L67.34 246.57L67.5 242.5L67.79 244.93L68.39 248.35L69.06 247.89L69.8 248.28L70 247.28L70.2 247.8L70.71 248.16L71.11 248.35L71.86 248.3L72.5 240L72.55 241.28L72.93 246.94L73.75 243.75L73.76 246.46L74.59 248.45L75.26 248.08L75.92 247.75L76.35 247.67L76.72 247.79L77.33 246.54L77.5 245.87L77.72 246.85L78.17 248.38L78.65 247.98L79.02 248.19L79.61 248.27L80.18 248.24L80.94 247.39L81.55 244.77L82.22 242.46L82.82 243.78L83.5 241.26L84.08 244.76L84.57 240.58L85.41 238.18L86.25 238.41L87.01 236.88L87.71 233.86L88.22 236.33L88.69 231.99L89.19 232.33L89.58 229.7L90.31 228.76L90.86 229.63L91.63 230.66L91.88 224.38L92.17 230.85L92.99 226.65L93.76 228.31L94.12 226L94.58 228.57L95.38 228.18L95.96 231.73L96.79 224.83L97.25 215L97.35 218.15L97.74 225.75L98.4 220.91L99.14 227.17L99.63 219.57L100.03 227.94L100.55 235.19L101.12 201.25L101.37 218.19L102.09 227.83L102.51 227.66L102.99 231.67L103.4 228.5L103.79 224.54L104.53 223.05L104.97 219.93L105.5 216.25L105.6 228.82L106.18 228.16L106.63 234.2L107.34 236.05L107.76 229.73L108.43 233.43L108.85 235.78L109.41 229.28L109.87 228.12L110.36 236.04L111.19 238.42L111.93 234.19L112.44 231.94L113.22 238.58L113.69 236.26L114.23 235.77L115 229.81L115.5 220L115.67 222.59L116.08 229.54L116.92 230.53L117.38 229.3L117.86 238.66L118.59 239.76L119.11 241.49L119.61 235.37L120.01 231.61L120.41 224.66L120.5 220L121.05 231.57L121.53 225.14L122.18 228.41L122.71 237.43L123.29 228.29L124.11 225.43L124.25 216.25L124.71 230.52L125.34 224.98L126.12 225.81L126.56 222.81L126.75 220L127 236.03L127.79 239.46L128.55 244.12L129.03 235.13L129.48 235.84L130.19 240.53L130.5 223.75L131 228.79L131.46 235.29L132.27 235.63L133 232.5L133.06 235.99L133.71 241.88L134.27 245.99L134.68 242.07L135.06 235.33L135.5 228.75L135.88 241.49L136.36 239.01L137.05 245.68L137.54 240.19L137.9 239.52L138.29 240.14L138.94 242.89L139.44 244.24L139.88 245.38L140.59 243.36L140.98 243.91L141.45 245.45L142.08 247.11L142.85 246.33L143.5 246.71L143.62 239.52L144 242.1L144.8 242.74L145.26 244.6L145.63 245.19L146.11 246.04L146.69 241.06L147.08 237.74L147.43 235.71L147.52 243.31L148.06 245.29L148.69 239.46L149.12 241.71L149.65 242.87L150.44 242.87L151.27 246.23L151.94 242.08L152.64 244.18L153.28 239.81L153.7 242.19L154.08 243.5L154.45 236.9L155.25 235.16L155.94 230.23L156.76 226.94L157.13 230.63L157.8 204.91L157.9 201.43L158.39 228.58L159.1 239.04L159.62 230.26L160.46 239.67L160.85 233.15L161.47 235.27L162.19 234.36L162.98 234.9L163.69 237.1L164.39 241.01L165.13 242.91L165.93 237.39L166.46 241.49L167.15 219.38L167.94 212.02L168.72 178.85L169.28 176.72L169.33 161.43L170.02 172.4L170.79 182.76L171.43 194.76L172.09 197.2L172.63 201.12L173.27 204.33L173.92 206.78L174.32 207.68L174.99 214.78L175.83 213.15L176.61 213.63L177.32 226L177.86 222.53L178.58 226.31L179.22 219.23L179.52 191.9L179.79 219.07L180.55 230.3L180.95 205.48L181.67 215.71L182.04 225.04L182.69 223.91L183.28 218.88L183.33 195.71L183.75 197.82L184.45 218.84L185.05 213.48L185.7 202.25L186.5 218.69L186.99 203.18L187.14 178.57L187.35 183.09L187.86 218.17L188.54 195.68L189 197.15L189.44 205.03L190.24 204.17L190.91 220.47L191.49 226.17L192.27 215.21L192.79 215.62L193.47 212.91L193.93 215.2L194.49 213.18L194.76 197.62L195.24 215.48L196.04 202.76L196.82 222.71L197.36 212.07L198 227.19L198.52 232.04L198.94 219.33L199.54 229.64L200.3 223.41L200.48 212.86L201.07 215.82L201.77 229.06L202.59 230.75L203.08 223.78L203.52 233L204.1 235.02L204.59 238.47L205.05 238.46L205.61 234.66L206.27 234.48L206.87 221.61L207.38 213.56L208.1 197.62L208.14 209.18L208.97 216.46L209.55 208.41L209.95 211.23L210.32 218.25L211.1 235.57L211.48 234.22L212.18 236.62L212.81 245.74L213.32 244.28L214.06 246.48L214.43 243.89L214.86 246.84L215.44 247.86L215.81 247.27L216.57 244.96L217.04 244.76L217.47 243.24L217.85 246.29L218.51 243.09L219.09 245.91L219.75 244.18L220.42 234.88L221.17 213.83L221.99 213.1L222.14 197.62L222.68 202.98L223.14 210.72L223.72 210.92L224.17 209.17L224.53 214.96L225.12 211.54L225.82 213.74L226.27 218.76L226.76 221.41L227.29 212.99L227.98 213.23L228.59 222.34L229.25 223.03L229.97 220.73L230.52 222.65L231.26 220.07L232.05 227.82L232.45 222.29L233.26 227.91L233.97 232.33L234.39 224.1L234.97 222.7L235.48 220.48L235.63 225.38L236.43 225.69L236.97 231.93L237.6 232.66L238.38 225.03L239.12 222.96L239.29 222.38L239.94 230.34L240.52 236.49L241.19 234.16L241.65 237.45L242.36 228.08L242.5 220L243.11 225L243.78 233.37L244.48 230.64L244.95 230.39L245.74 235.81L246.57 233.65L247.4 236L248.01 233.4L248.75 238.07L249.27 236.26L250 226.25L250.06 233.91L250.84 230.64L251.36 232.35L251.76 235.1L252.33 238.29L252.96 234.54L253.69 241.37L254.28 234.27L254.65 239.62L255 231.25L255.4 239.14L255.79 236.1L256.54 236.76L256.98 236.38L257.5 240.9L258.24 233.75L258.67 234.06L258.75 232.5L259.1 234.24L259.71 237.28L260.41 242.67L261.18 238.58L261.25 237.5L261.87 244.37L262.68 241.99L263.28 244.97L264.09 243.73L264.5 237.24L264.96 243.17L265 236.25L265.57 238.46L266.07 245.05L266.78 244.83L267.45 243.37L267.5 237.5L268.06 242.13L268.83 246.58L269.45 243.93L269.96 243.71L270.51 244.26L271.27 245.15L272.07 247.16L272.53 247.18L273.29 247.86L274.12 247.59L274.73 248.26L275.37 247.55L275.82 247.91L276.44 247.5L277.04 247.57L277.69 248.11L278.06 247.81L278.89 247.46L279.5 247.64L280.05 248.13L280.79 247.39L281.42 247.82L282.02 247.67L282.71 242.99L283.1 241.03L283.72 228.77L284.28 231.49L285 222.5L285.1 233.74L285.9 233.42L286.25 227.5L286.39 236.09L286.98 240.58L287.4 241.6L287.97 235.85L288.72 218.51L289.38 200L289.51 212.91L290.1 213.62L290.61 218.57L291.07 218.77L291.72 221.38L292.53 222.43L292.95 219.85L293.68 216.85L293.75 210L294.05 212.49L294.51 213.14L294.98 214.9L295.67 222.84L296.18 220.61L296.71 220.36L297.37 220.59L297.78 220.83L298.49 230.5L298.91 232.46L299.51 226.65L299.99 230.58L300.45 229.92L301.06 222.31L301.63 219.96L302.17 221.19L302.5 218.75L302.73 222.97L303.35 222.15L303.35 223.4L302.73 224.4L302.5 219.5L302.17 223.01L301.63 222.29L301.06 225.01L300.45 232.62L299.99 233.28L299.51 229.47L298.91 235.42L298.49 233.44L297.78 223.6L297.37 223.26L296.71 222.87L296.18 223L295.67 225.1L294.98 216.78L294.51 215.36L294.05 214.82L293.75 211.2L293.68 219.16L292.95 221.09L292.53 223.07L291.72 222.91L291.07 220.95L290.61 220.97L290.1 216.28L289.51 217.71L289.38 202.7L288.72 221.22L287.97 238.28L287.4 244.7L286.98 244.08L286.39 240.15L286.25 229.6L285.9 235.95L285.1 237.46L285 224.6L284.28 235.35L283.72 232.34L283.1 243.86L282.71 245.34L282.02 248.75L281.42 248.42L280.79 247.99L280.05 248.73L279.5 248.24L278.89 248.06L278.06 248.41L277.69 248.71L277.04 248.17L276.44 248.1L275.82 248.51L275.37 248.15L274.73 248.86L274.12 248.19L273.29 248.46L272.53 247.78L272.07 247.77L271.27 246.04L270.51 245L269.96 244.92L269.45 245.36L268.83 248.28L268.06 244.31L267.5 238.78L267.45 245.89L266.78 246.99L266.07 247.04L265.57 240.78L265 237.6L264.96 245.86L264.5 239.85L264.09 246.26L263.28 247.25L262.68 244.02L261.87 246.4L261.25 238.55L261.18 240.68L260.41 244.77L259.71 239.22L259.1 236L258.75 234L258.67 237.06L258.24 236.75L257.5 243.9L256.98 239.01L256.54 239.07L255.79 238.42L255.4 241.64L255 232.6L254.65 242.24L254.28 236.8L253.69 243.79L252.96 237.13L252.33 240.99L251.76 237.8L251.36 235.05L250.84 233.34L250.06 236.61L250 227.6L249.27 239.14L248.75 241.07L248.01 235.34L247.4 237.29L246.57 235.74L245.74 238.46L244.95 233.39L244.48 233.64L243.78 236.37L243.11 227.85L242.5 221.35L242.36 230.88L241.65 240.76L241.19 237.82L240.52 240.31L239.94 234.3L239.29 224.44L239.12 227L238.38 228.71L237.6 235.96L236.97 235.13L236.43 228.89L235.63 228.58L235.48 222.08L234.97 225.9L234.39 227.3L233.97 235.32L233.26 231.11L232.45 225.49L232.05 231.02L231.26 223L230.52 225.58L229.97 223.53L229.25 225.9L228.59 225.36L227.98 215.47L227.29 216.19L226.76 224.61L226.27 221.96L225.82 216.94L225.12 214.74L224.53 218.16L224.17 211.71L223.72 214.12L223.14 213.92L222.68 205.75L222.14 200.13L221.99 218.21L221.17 219.24L220.42 237.38L219.75 245.91L219.09 247.56L218.51 244.66L217.85 247.78L217.47 244.69L217.04 246.16L216.57 246.3L215.81 248.69L215.44 248.86L214.86 248.42L214.43 245.54L214.06 248.19L213.32 246.3L212.81 248.24L212.18 239.64L211.48 237.76L211.1 239.39L210.32 222.62L209.95 215.9L209.55 213.84L208.97 223.01L208.14 217.32L208.1 201.73L207.38 221.79L206.87 229.84L206.27 241.02L205.61 241.84L205.05 244.27L204.59 243.82L204.1 239.84L203.52 237.9L203.08 228.35L202.59 235.75L201.77 234.97L201.07 222.15L200.48 216.74L200.3 230.97L199.54 236.29L198.94 225.26L198.52 237.57L198 233.08L197.36 218.42L196.82 229.46L196.04 209.61L195.24 222.33L194.76 201.05L194.49 219.84L193.93 221.45L193.47 218.84L192.79 221.19L192.27 221.39L191.49 233.3L190.91 228.32L190.24 213.31L189.44 215.7L189 206L188.54 207.71L187.86 231.02L187.35 196.55L187.14 185.43L186.99 216.26L186.5 229.8L185.7 210.09L185.05 219.88L184.45 226.68L183.75 205.91L183.33 200.97L183.28 229.29L182.69 233.04L182.04 232.77L181.67 222.63L180.95 213.6L180.55 239.86L179.79 231.38L179.52 198.53L179.22 231.01L178.58 235.02L177.86 227.82L177.32 230.19L176.61 217.31L175.83 217.7L174.99 218.12L174.32 209.5L173.92 208.57L173.27 205.96L172.63 202.84L172.09 199.15L171.43 197.5L170.79 185.83L170.02 177.28L169.33 164.63L169.28 182.96L168.72 183.48L167.94 217.79L167.15 226.6L166.46 246.21L165.93 241.4L165.13 245.78L164.39 243.27L163.69 240.16L162.98 238.78L162.19 238.79L161.47 240L160.85 238.14L160.46 244.96L159.62 236.34L159.1 245.8L158.39 237.4L157.9 206.74L157.8 214.88L157.13 236.36L156.76 230.34L155.94 234.05L155.25 238.7L154.45 240.18L154.08 246.7L153.7 245.29L153.28 242.81L152.64 246.54L151.94 243.61L151.27 246.96L150.44 244.13L149.65 244.7L149.12 243.87L148.69 241.82L148.06 247.96L147.52 246.23L147.43 237.2L147.08 240.38L146.69 243.32L146.11 247.75L145.63 246.43L145.26 245.87L144.8 244.24L144 243.99L143.62 240.56L143.5 248.2L142.85 247.87L142.08 248.1L141.45 246.31L140.98 245L140.59 244.65L139.88 247.01L139.44 246L138.94 244.79L138.29 242.2L137.9 240.6L137.54 242.31L137.05 247.75L136.36 241.91L135.88 245.4L135.5 231.12L135.06 239.09L134.68 244.98L134.27 247.99L133.71 244.61L133.06 239.66L133 234.38L132.27 238.86L131.46 238.84L131 233.14L130.5 226.68L130.19 245.76L129.48 239.61L129.03 238.43L128.55 246.8L127.79 243.2L127 241.49L126.75 223L126.56 228.68L126.12 231.36L125.34 230.04L124.71 236.96L124.25 219.85L124.11 232.57L123.29 235.03L122.71 243.62L122.18 233.83L121.53 230.13L121.05 237.21L120.5 223.15L120.41 230.79L120.01 236.97L119.61 239.97L119.11 244.72L118.59 243.03L117.86 241.46L117.38 232.44L116.92 234.01L116.08 233.47L115.67 226.7L115.5 222.1L115 233.41L114.23 238.47L113.69 238.96L113.22 241.28L112.44 234.42L111.93 237.4L111.19 241.59L110.36 239.01L109.87 230.82L109.41 232.01L108.85 237.9L108.43 236.72L107.76 233.61L107.34 240.07L106.63 239.45L106.18 233.95L105.6 235.29L105.5 219.55L104.97 225.08L104.53 227.44L103.79 228.02L103.4 232.29L102.99 235.29L102.51 232.2L102.09 233.17L101.37 227.15L101.12 206.69L100.55 244.41L100.03 231.56L99.63 223.05L99.14 230.88L98.4 225.1L97.74 230.5L97.35 223.22L97.25 217.58L96.79 229.52L95.96 234.79L95.38 230.42L94.58 230.56L94.12 227.67L93.76 230.26L92.99 228.87L92.17 233.39L91.88 225.7L91.63 233.26L90.86 232.08L90.31 231.21L89.58 232.27L89.19 234.96L88.69 234.68L88.22 238.95L87.71 236.39L87.01 239.25L86.25 240.66L85.41 240.13L84.57 242.38L84.08 246.56L83.5 242.98L82.82 245.37L82.22 244.01L81.55 246.08L80.94 248.36L80.18 248.84L79.61 248.87L79.02 248.79L78.65 248.58L78.17 248.98L77.72 247.45L77.5 246.47L77.33 247.17L76.72 248.39L76.35 248.27L75.92 248.35L75.26 248.68L74.59 249.05L73.76 247.65L73.75 244.36L72.93 247.78L72.55 243.24L72.5 241.06L71.86 248.9L71.11 248.95L70.71 248.76L70.2 248.4L70 247.88L69.8 248.88L69.06 248.49L68.39 248.95L67.79 245.53L67.5 243.26L67.34 247.9L66.7 247.86L66.09 248.04L65.6 242.73L65.51 246.89L64.71 248.24L64.08 249.03L63.5 249.1Z" fill="#f07458" fill-opacity="0.5" stroke="none"/>
<path d="M63.5 248.8L64.42 248.78L65.41 244.47L65.6 241.9L66.36 248.73L67.32 244.17L67.5 242.5L68.27 248.76L69.36 247.96L70 247.5L70.22 248.76L71.3 248.28L72.01 248.78L72.5 240L72.89 245.38L73.75 243.75L73.79 248.31L74.57 248.57L75.72 248.65L76.61 247.47L77.5 246L77.78 248.53L79.05 247.91L79.91 248.67L81.14 245.38L82.33 247.84L83.43 241.93L84.14 246.57L85.12 238.83L86.19 242.33L87.07 233.88L87.91 240.87L88.79 230.52L89.65 235.67L90.82 227.96L91.73 235.46L91.88 224.38L92.68 225.46L93.77 232.56L95.04 226.24L95.91 232.63L96.64 220.82L97.25 215L97.92 230.71L99.12 217.47L100.3 234.49L101.12 201.25L101.31 211.47L102.15 242.97L102.94 224.35L103.83 240.89L104.8 223.42L105.5 216.25L105.54 237.13L106.66 225L107.8 235.44L108.51 226.14L109.71 237.1L110.71 232.57L111.96 242.02L112.94 235.2L114.12 238.05L115.09 225.8L115.5 220L116.16 236.88L117.16 226.8L117.87 240.91L118.66 230.94L119.5 241.82L120.44 221.41L120.5 220L121.37 245.14L122.39 226.13L123.48 245.2L124.25 216.25L124.42 218.25L125.32 247.31L126.32 222.25L126.75 220L127.59 245.42L128.76 235.81L129.86 246.53L130.5 223.75L131.05 229.73L131.88 246.6L132.64 234.87L133 232.5L133.4 248.11L134.17 239.68L134.88 247.43L135.5 228.75L135.95 234.48L137.21 248.24L137.9 239.52L137.97 240.53L139.09 247.51L140.35 243.87L141.51 247.78L142.3 243.84L143.38 247.77L143.62 239.52L144.24 241.1L145.04 247.56L145.75 243.78L146.77 245.74L147.43 235.71L148.02 237.31L148.78 246.53L149.57 241.73L150.5 246.92L151.22 245.75L152.2 246.88L153.34 235.8L154.32 247.2L155.04 237.17L155.76 243.37L156.58 231.69L157.68 242.38L157.9 201.43L158.93 222.82L159.94 242.03L160.7 228.03L161.53 245.69L162.48 231.68L163.24 245.76L164.01 236.78L164.97 247.64L166.18 232.84L167.02 240.62L168.25 189.31L169.33 161.43L169.47 185.45L170.43 180.82L171.27 198.49L172.08 197.59L173.18 210.15L174.38 207.9L175.59 227.65L176.42 214.72L177.37 229.03L178.09 213.89L178.97 241.81L179.52 191.9L179.85 205.01L180.62 236.42L181.37 209.54L182.66 231.54L183.33 195.71L183.54 204.27L184.54 231.54L185.56 203.81L186.55 233.81L187.14 178.57L187.6 195.98L188.6 232.1L189.6 208.67L190.34 238.14L191.42 209.94L192.53 227.11L193.66 202.98L194.55 224.92L194.76 197.62L195.53 206.14L196.71 227.75L197.85 215.32L198.58 238.76L199.48 218.87L200.28 237.64L200.48 212.86L201.41 218.86L202.35 242.12L203.28 228.97L204.12 244.56L205.09 221.14L206.22 233.41L207.3 207.9L208.1 197.62L208.13 229.14L209.07 204.7L210.14 229.25L210.88 230.82L212.12 246.73L212.83 238.85L213.91 248.39L214.7 243.56L215.97 248.68L217.08 243.12L217.92 248.78L218.92 243.16L220.13 248.41L221.34 207.17L222.14 197.62L222.44 216.74L223.52 210.43L224.67 219.77L225.92 211.11L226.92 224.1L227.99 213.31L229.17 227.76L230.18 220.96L231.01 231.42L232.06 222.3L232.97 234.09L234.1 225.13L235.24 231.34L235.48 220.48L236.49 225.46L237.25 235.32L237.97 226.94L239.23 236.72L239.29 222.38L240.36 224.91L241.66 242.52L242.5 220L242.85 224.16L244.12 236.52L244.92 229.64L245.73 239.18L246.8 233.54L247.95 238.92L248.72 230.55L249.99 236.93L250 226.25L250.83 229.97L251.65 239.52L252.61 234.2L253.42 244.14L254.17 234.83L254.92 241.85L255 231.25L255.64 234.06L256.43 242.96L257.54 236.21L258.71 242.56L258.75 232.5L259.87 238.96L260.82 244.85L261.25 237.5L261.97 240.65L262.74 247.57L263.96 239.79L264.91 245.27L265 236.25L265.68 238.42L266.61 247.68L267.43 237.87L267.5 237.5L268.57 247.11L269.5 242.97L270.21 248.57L271.02 244.81L271.77 248.43L273.04 247.27L273.99 248.57L275.16 247.56L276.21 248.53L277.16 247.7L278.3 248.63L279.33 247.8L280.06 248.56L281.36 247.12L282.27 248.31L283.36 231.56L284.31 237.81L285 222.5L285.58 237.02L286.25 227.5L286.38 244.68L287.12 233.31L287.84 238.92L288.78 213.44L289.38 200L289.99 219.34L290.96 216.67L292.22 223.24L293.01 217.31L293.75 210L294.29 219.81L295.09 216.59L296.32 227.21L297.13 220.76L298.18 233.78L299.25 227.07L300.53 234.04L301.48 220.03L302.5 218.75L302.69 224.69L303.42 222.5" fill="none" stroke="#ec6549" stroke-width="0.7" stroke-opacity="0.9" stroke-linejoin="round"/>
<path d="M63.75 242.5L65 241.5L66.25 242.25L67.5 243.1L68.75 243.5L70 244L71.25 244.4L72.5 244.4L73.75 245L75 245.25L76.25 245.6L77.5 246L78.75 246.25L80 246L81.25 245L81.9 243.1L82.5 242.5" fill="none" stroke="#111" stroke-opacity="0.75" stroke-width="0.6" stroke-linejoin="round"/>
<path d="M63.45 242.52h0.6M64.35 242.37h0.6M64.7 241.99h0.6M65.25 242.62h0.6M65.95 242.32h0.6M66.15 243.02h0.6M67.05 243.45h0.6M67.2 242.88h0.6M67.95 244.13h0.6M68.45 243.34h0.6M68.85 242.99h0.6M69.7 243.79h0.6M69.75 243.61h0.6M70.65 244.06h0.6M70.95 244.91h0.6M71.55 244.39h0.6M72.2 245.37h0.6M72.45 244.42h0.6M73.35 245.33h0.6M73.45 245.07h0.6M74.25 244.25h0.6M74.7 245.38h0.6M75.15 245.68h0.6M75.95 246.22h0.6M76.05 245.04h0.6M76.95 246.57h0.6M77.2 246.76h0.6M77.85 245.75h0.6M78.45 246.54h0.6M78.75 246.98h0.6M79.65 245.13h0.6M79.7 246.36h0.6M80.55 244.25h0.6M80.95 245.2h0.6M81.45 244.47h0.6M81.6 243.02h0.6M82.2 242.93h0.6" stroke="#111" stroke-width="0.8" stroke-linecap="round" stroke-opacity="0.85"/>
<path d="M98 228.12L99.25 228.75L100.5 227.5L101.75 225L103 228.75L104.25 228.12L105.5 227.5L106.75 227.75L108 226.88L109.25 225L110.5 228.75L111.75 231.25L113 237.5L114.25 231.25L115.5 227.5L116.75 231.25L118 233.75L119.25 235L120.5 236.25L121.75 237.5L123 238.12L124.25 238.75L125.5 239.38L126.75 240L128 240.62L129.25 241.25L130.5 241.88L131.75 242.5L133 243.12L134.25 241.88L135.5 242.5L136.75 243.12L138 243.75L139.81 244.29L141.71 243.33L143.62 241.43L145.52 235.71L147.43 234.76L149.33 233.81L151.24 234.76L153.14 235.71L155.05 241.43L156.95 243.33L158.86 243.33L160.76 242.95L162.67 242.38L164.57 241.43" fill="none" stroke="#111" stroke-opacity="0.4" stroke-width="0.45" stroke-linejoin="round"/>
<path d="M97.7 228.29h0.6M98.95 228.73h0.6M100.2 227.41h0.6M101.45 224.43h0.6M102.7 229.23h0.6M103.95 227.94h0.6M105.2 227.76h0.6M106.45 227.61h0.6M107.7 227.39h0.6M108.95 224.98h0.6M110.2 228.94h0.6M111.45 231.67h0.6M112.7 237.41h0.6M113.95 231.15h0.6M115.2 227.44h0.6M116.45 231.3h0.6M117.7 234.03h0.6M118.95 235.13h0.6M120.2 236.3h0.6M121.45 237.9h0.6M122.7 238.22h0.6M123.95 238.24h0.6M125.2 240.04h0.6M126.45 239.17h0.6M127.7 241.59h0.6M128.95 240.51h0.6M130.2 241.21h0.6M131.45 242.16h0.6M132.7 243.59h0.6M133.95 241.45h0.6M135.2 242.88h0.6M136.45 243.6h0.6M137.7 243.44h0.6M138.95 244.06h0.6M139.51 244.55h0.6M140.2 244.12h0.6M141.41 243.04h0.6M141.45 242.43h0.6M142.7 241.76h0.6M143.32 240.99h0.6M143.95 239.58h0.6M145.2 235.79h0.6M145.22 235.37h0.6M146.45 234.59h0.6M147.13 234.47h0.6M147.7 234.56h0.6M148.95 234.08h0.6M149.03 234.03h0.6M150.2 234.86h0.6M150.94 235.25h0.6M151.45 234.79h0.6M152.7 236.24h0.6M152.84 235.15h0.6M153.95 239.31h0.6M154.75 241.4h0.6M155.2 241.01h0.6M156.45 243.88h0.6M156.65 244.36h0.6M157.7 243.89h0.6M158.56 242.6h0.6M158.95 242.08h0.6M160.2 243.36h0.6M160.46 243.09h0.6M161.45 242.31h0.6M162.37 242.01h0.6M162.7 241.32h0.6M163.95 241.61h0.6M164.27 240.36h0.6" stroke="#111" stroke-width="0.8" stroke-linecap="round" stroke-opacity="0.85"/>
<path d="M164.6 241.4L165.5 240L166.5 239.5L167.3 236L167.8 215L168.2 190L168.6 180.4L169 195L169.4 182L169.8 198L170.2 184L170.6 200L171 187L171.4 201L171.8 190L172.2 198L172.6 195L173 205L173.4 200L173.8 211L174.3 203L174.8 199.5L175.3 204L175.7 198.6L176.2 203L176.7 199.5L177.2 212L177.6 207.1L178.6 212.9" fill="none" stroke="#111" stroke-opacity="0.85" stroke-width="1.1" stroke-linejoin="round"/>
<path d="M170 187.63L170.35 186.27L170.7 187.45L170.95 186.55L171.05 186.59L171.4 194.31L171.75 191.49L171.9 191.35L172.1 197.26L172.45 203.25L172.8 204.3L172.86 204.59L173.15 202.14L173.5 209.17L173.81 211.45L173.85 207.25L174.2 204.08L174.55 203.85L174.76 198.12L174.9 198.26L175.25 198.11L175.6 199.27L175.71 198.17L175.95 198.62L176.3 200.31L176.65 203.07L176.67 202.89L177 204.74L177.35 206.91L177.62 201.45L177.7 207.58L178.05 213.04L178.4 213.36L178.57 211.94" fill="none" stroke="#111" stroke-opacity="0.8" stroke-width="1.0" stroke-linejoin="round"/>
<path d="M191.5 214L192.3 199.8L193.1 196.4L193.8 197.5L194.2 205.5L194.7 202.1L195.1 214.6L195.6 211.2L196 221.5L196.8 219.2L197.4 226L198.5 227.2L199.7 226L200.3 230.6L200.8 228.3L201.4 232.9L202 230.6L202.5 235.2L203.1 232.9L203.7 237.5L204.2 235.2L204.8 227.2" fill="none" stroke="#111" stroke-opacity="0.85" stroke-width="1.0" stroke-linejoin="round"/>
<path d="M204.8 227.2L205.4 207.8L206 193L206.5 191.8L206.9 202.1L207.2 213.5L207.7 222.6" fill="none" stroke="#111" stroke-opacity="0.6" stroke-width="0.8" stroke-linejoin="round"/>
<path d="M207.7 222.6L208.5 222L209.5 226L210.5 228L211 231L212 234.5L212.6 237.6" fill="none" stroke="#111" stroke-opacity="0.5" stroke-width="0.4" stroke-linejoin="round"/>
<path d="M207.4 221.82h0.6M208.2 221.29h0.6M208.3 221.64h0.6M209.2 226.21h0.6M210.1 228.36h0.6M210.2 227.77h0.6M210.7 230.92h0.6M211 231.25h0.6M211.7 234.59h0.6M211.9 235.43h0.6M212.3 238.43h0.6" stroke="#111" stroke-width="0.8" stroke-linecap="round" stroke-opacity="0.85"/>
<path d="M225.95 194.14L226.25 192.36L226.55 196.6L226.85 192.36L226.9 193.63L227.15 201.76L227.45 196.93L227.75 200.75L227.86 196.43L228.05 205.44L228.35 206.3L228.65 209.64L228.81 205.99L228.95 209.85L229.25 207.82L229.55 214.43L229.76 208.36L229.85 218.74L230.15 226.93L230.45 231.61L230.71 240.02L230.75 237.89L231.05 233.21L231.35 216.35L231.65 205.23L231.67 206.75L231.95 215.72L232.25 199.96L232.55 199.56L232.62 199.02L232.85 202.87L233.15 199.56L233.45 203.36L233.57 201.08L233.75 206.02L234.05 200.62L234.35 199.71L234.52 201.99L234.65 200.82L234.95 205.36L235.25 205.53L235.48 208.59L235.55 209.37L235.85 216.2L236.15 220.12L236.43 221.09L236.45 222.5L236.75 215.12L237.05 214.77L237.35 209.95L237.38 206.51L237.65 207.93L237.95 204.79L238.25 203.02L238.33 199.73L238.55 201.65L238.85 206.02L239.15 199.29L239.29 199.05L239.45 201.59L239.75 206.45L240.05 210.76L240.24 213.36L240.35 209.87L240.65 208.96L240.95 205.46L241.19 204.74L241.25 204.79L241.55 205.27L241.85 205.51L242.14 205.19L242.15 204.9L242.45 207.06L242.75 203.12L243.05 202.05L243.1 208.66L243.35 199.77L243.65 201L243.95 201.77L244.05 199.02L244.25 211.18L244.38 221.35L244.55 217.14L244.85 206.66L245 205.03L245.15 203.82L245.45 200.39L245.62 195.75L245.75 201.01L246.05 206.89L246.25 205.39L246.35 199.4L246.65 213.85L246.88 219.1L246.95 214.66L247.25 217.76L247.5 213.91L247.55 218.51L247.85 216.6L248.12 207.88L248.15 210.54L248.45 208.06L248.75 207.48L248.75 209.26L249.05 207.7L249.35 205.63L249.38 215.05L249.65 208.84L249.95 207.9L250 203.25L250.25 209.82L250.55 212.29L250.62 216.97L250.85 215.16L251.15 210.94L251.25 211.78L251.45 205.56L251.75 210.43L251.88 205.28L252.05 208.55L252.35 209.94L252.5 210.08L252.65 210.63L252.95 205.58L253.12 213.24L253.25 211.56L253.55 209.16L253.75 208.55L253.85 209.16L254.15 217.84L254.38 213.85L254.45 212.94L254.75 218.94L255 215.73L255.05 214.96L255.35 218.01L255.62 215.53L255.65 216.64L255.95 220.52L256.25 220.04L256.25 220.59L256.55 221.9L256.85 218.98L256.88 219.49L257.15 224.19L257.45 226.14L257.5 226.75L257.75 222.25L258.05 220.51L258.12 219.5L258.35 220.41L258.65 223.68L258.75 222.38L258.95 220.41L259.25 226.27L259.38 225.2L259.55 228.64L259.85 225.42L260 226.5L260.15 226.18L260.45 223.95L260.62 224.03L260.75 224.67L261.05 229.76L261.25 228.8L261.35 229.32L261.65 228.78L261.88 226.05L261.95 231.85L262.25 232.38L262.5 234.05L262.55 231.94L262.85 230.91L263.12 228.92L263.15 228.71L263.45 233.06L263.75 233.11L263.75 234.24L264.05 233.06L264.35 233.34L264.38 228.85L264.65 229.02L264.95 230.09L265 227.17L265.25 229.98L265.55 234.83L265.62 228.9L265.85 235.15L266.15 233.43L266.25 235.4L266.45 235.15L266.75 234.5L266.88 233.21L267.05 235.16L267.35 233.23L267.5 235.38L267.65 234.51L267.95 235.37L268.12 237.35L268.25 237.26L268.55 236.42L268.75 235.09L268.85 235.19L269.15 236.59L269.38 236.18L269.45 237.69L269.75 236.2L270 238L270.05 236.04L270.35 236.58L270.62 238.47L270.65 235.47L270.95 236.94L271.25 236.47L271.25 235.35L271.55 237.89L271.85 239.8L271.88 237.63L272.15 239.09L272.45 239.8L272.5 239.44L272.75 239.5L273.05 239.8L273.12 239.35L273.35 238.78L273.65 239.6L273.75 236L273.95 237.45L274.25 239.2L274.38 239.76L274.55 240.13L274.85 239.43L275 236.84L275.15 237.19L275.45 237.85L275.62 239.56L275.75 241.48L276.05 241.63L276.25 241.72L276.35 241.72L276.65 241.63L276.95 240.25L277.25 240.84L277.5 241.32L277.55 241.05L277.85 241.27L278.15 240.59L278.45 240.68L278.75 240.22L278.75 241.1L279.05 240.62L279.35 241.06L279.65 240.27L279.95 241.74L280 239.55L280.25 240.25L280.55 240.91L280.62 239.5L280.85 241.49L281.15 242.91L281.25 242.01L281.45 243.53L281.75 241.04L281.88 242.06L282.05 241.35L282.35 239.47L282.5 239.1L282.65 240.97L282.95 242.36L283.12 238.55L283.25 241.4L283.55 241.2L283.75 239.12L283.85 240.03L284.15 239.08L284.38 237L284.45 240.06L284.75 237.67L285 237.92L285.05 243L285.35 242.97L285.62 243L285.65 240.36L285.95 241.84L286.25 242.16L286.25 243L286.55 242.76L286.85 242.82L287.15 235.96L287.45 236.71L287.5 233.15L287.75 235.8L288.05 238.8L288.12 240.13L288.35 237.25L288.65 232.49L288.75 231.61L288.95 215.23L289.25 211.62L289.38 202L289.55 205.82L289.85 207.05L290 215.78L290.15 218.41L290.45 216.34L290.62 224.51L290.75 220.97L291.05 220.97L291.25 225.5L291.35 223.86L291.65 220.64L291.88 215.26L291.95 220.91L292.25 207.79L292.5 202.15L292.55 208.61L292.85 208.6L293.12 213.95L293.15 198.9L293.45 205.19L293.75 211.19L293.75 211.56L294.05 200.85L294.35 198.54L294.38 198.25L294.65 199.36L294.95 201.71L295 200.92L295.25 199.75L295.55 198.54L295.62 201.01L295.85 199.36L296.15 205.14L296.25 202.66L296.45 208.53L296.75 202.94L296.88 210.5L297.05 206.78L297.35 204.29L297.5 202.1L297.65 203.02L297.95 203.43L298.12 203.7L298.25 205.5L298.55 202.69L298.75 203.95L298.85 209.49L299.15 210.56L299.38 215.24L299.45 212.15L299.75 207.66L300 213.69L300.05 212.69L300.35 213.41L300.62 210.87L300.65 216.53L300.95 214.13L301.25 208.53L301.25 210.6L301.55 213.35L301.85 204.96L301.88 206.67L302.15 205.44L302.45 202.78L302.5 198.91L302.75 202.69L303.05 200.67L303.12 198.88L303.35 199.88L303.5 201.13" fill="none" stroke="#111" stroke-opacity="0.78" stroke-width="0.9" stroke-linejoin="round"/>
<path d="M81.45 236.25h0.9M82.65 230.6h0.9M84.55 230h0.9M83.3 238.75h0.9M85.8 241.9h0.9M86.45 238.1h0.9M87.65 221.25h0.9M88.95 214.4h0.9M89.15 218.1h0.9M88.05 226.25h0.9M89.55 228.75h0.9M90.15 231.25h0.9M90.8 230h0.9M91.45 232.5h0.9M92.05 228.1h0.9M92.65 228.75h0.9M93.3 231.25h0.9M93.95 226.25h0.9M95.15 225h0.9M96.45 224.4h0.9M97.05 227.5h0.9M98.3 231.25h0.9M98.95 235h0.9M99.3 239.4h0.9M83.95 242.5h0.9M87.05 244h0.9M94.55 229h0.9M95.75 227h0.9M98.8 235h0.9M97.55 239.38h0.9M105.67 239.38h0.9M106.92 236.25h0.9M110.67 244.38h0.9M112.55 238.75h0.9M111.92 238.75h0.9M100.05 232.5h0.9M106.3 232.5h0.9M149.84 226.19h0.9M147.93 231.9h0.9M151.74 230h0.9M179.07 197.62h0.9M180.03 203.33h0.9M180.98 212.86h0.9M181.93 214.76h0.9M182.88 201.43h0.9M183.84 207.14h0.9M184.79 216.67h0.9M185.74 218.57h0.9M186.69 222.38h0.9M187.65 226.19h0.9M188.6 228.1h0.9M189.55 231.9h0.9M190.5 226.19h0.9M179.45 207.14h0.9M181.36 207.14h0.9M184.41 210.95h0.9M186.31 212.86h0.9M188.22 222.38h0.9M190.12 230h0.9M190.15 222.6h0.9M190.65 224.3h0.9M187.85 226h0.9" stroke="#111" stroke-width="0.9" stroke-linecap="round"/></g>
<rect x="26.3" y="145.6" width="290.2" height="103.2" fill="none" stroke="#555" stroke-width="0.7"/>
<path d="M39.6 248.8v2.3M72.32 248.8v2.3M105.58 248.8v2.3M138.3 248.8v2.3M171.56 248.8v2.3M204.46 248.8v2.3M237.72 248.8v2.3M270.44 248.8v2.3M303.7 248.8v2.3M26.3 248.8h-2.3M26.3 223.03h-2.3M26.3 197.25h-2.3M26.3 171.48h-2.3M26.3 145.7h-2.3" stroke="#555" stroke-width="0.7" fill="none"/>
<text x="39.6" y="258.6" text-anchor="middle" textLength="25.6" lengthAdjust="spacingAndGlyphs">2010-01</text>
<text x="72.32" y="258.6" text-anchor="middle" textLength="25.6" lengthAdjust="spacingAndGlyphs">2010-07</text>
<text x="105.58" y="258.6" text-anchor="middle" textLength="25.6" lengthAdjust="spacingAndGlyphs">2011-01</text>
<text x="138.3" y="258.6" text-anchor="middle" textLength="25.6" lengthAdjust="spacingAndGlyphs">2011-07</text>
<text x="171.56" y="258.6" text-anchor="middle" textLength="25.6" lengthAdjust="spacingAndGlyphs">2012-01</text>
<text x="204.46" y="258.6" text-anchor="middle" textLength="25.6" lengthAdjust="spacingAndGlyphs">2012-07</text>
<text x="237.72" y="258.6" text-anchor="middle" textLength="25.6" lengthAdjust="spacingAndGlyphs">2013-01</text>
<text x="270.44" y="258.6" text-anchor="middle" textLength="25.6" lengthAdjust="spacingAndGlyphs">2013-07</text>
<text x="303.7" y="258.6" text-anchor="middle" textLength="25.6" lengthAdjust="spacingAndGlyphs">2014-01</text>
<text x="21.9" y="251.3" text-anchor="end">0</text>
<text x="21.9" y="225.53" text-anchor="end">5</text>
<text x="21.9" y="199.75" text-anchor="end">10</text>
<text x="21.9" y="173.98" text-anchor="end">15</text>
<text x="21.9" y="148.2" text-anchor="end">20</text>
<text x="171.4" y="141.1" text-anchor="middle" style="font-size:8.1px">(b)</text>
<text transform="translate(9.9 197.2) rotate(-90)" x="0" y="0" text-anchor="middle" textLength="102.9" lengthAdjust="spacingAndGlyphs">Metabolite concentration (μg/L)</text>
<clipPath id="clip2"><rect x="26.3" y="277.6" width="290.2" height="103.2"/></clipPath>
<path d="M39.6 277.6V380.8M72.32 277.6V380.8M105.58 277.6V380.8M138.3 277.6V380.8M171.56 277.6V380.8M204.46 277.6V380.8M237.72 277.6V380.8M270.44 277.6V380.8M303.7 277.6V380.8M26.3 380.8H316.5M26.3 355.03H316.5M26.3 329.25H316.5M26.3 303.48H316.5M26.3 277.7H316.5" stroke="#f3f3f3" stroke-width="0.6" fill="none"/>
<g clip-path="url(#clip2)"><path d="M63.5 379.74L64.5 379.52L65.6 372.81L66.2 379.5L67.5 373.38L68.2 379.46L70 378.33L72 379.4L72.5 370.79L73.2 379.38L73.75 374.52L74.5 379.36L76 378.53L77.5 376.71L78.2 379.3L80 377.67L81.9 373.13L83.12 371.86L84.38 369.34L85.62 366.82L86.88 364.3L88.75 359.27L90.62 356.44L91.88 353.94L93.75 354.88L95.62 353L97.25 343L98.75 344.25L100 345.5L101.12 324L101.75 348L103 351.75L104.25 353L105.5 344.25L106.75 348L108 351.75L109.25 354.25L110.5 358L111.75 359.25L113 360.5L114.25 356.75L115.5 348L116.75 351.75L118 359.25L119.25 356.75L120.5 348L121.75 354.25L123 345.5L124.25 344.25L125.5 354.35L126.75 348.35L128 361.1L129.25 362.6L130.5 352.85L131.75 365.6L133 362.1L134.25 369.85L135.5 358.78L136.75 370.12L137.9 369.72L139.81 371.75L141.71 375.69L143.62 370.1L145.52 374.03L147.43 366.54L149.33 370.48L151.24 376.16L153.14 366.5L155.05 364.47L156.95 356.73L157.9 346.17L158.86 347.08L159.81 352.73L160.76 356.47L162.67 360.16L164.57 369.55L166.48 355.77L167.43 336.45L168.38 313.32L169.33 281.66L170.29 305.16L171.24 316.31L172.19 325.57L173.14 331.05L174.1 334.62L175.71 338.02L177.62 343.61L179.52 318.78L181.43 333.96L183.33 322.46L185.24 331.92L187.14 305.19L189.05 324.17L190.95 331.72L192.86 331.66L194.76 323.97L196.67 329.62L198.57 342.89L200.48 339.01L202.38 348.47L204.29 352.22L206.19 333.38L208.1 324.24L210 334.14L210.71 357.71L212.62 367.24L213.57 372L216.43 374.33L220.24 370.37L221.19 334.49L222.14 323.62L223.1 333.19L224.05 335.13L225.95 337.11L227.86 339.09L229.76 344.88L231.67 346.86L233.57 348.84L235.48 347.02L237.38 350.9L239.29 349.07L241.19 352.96L241.25 360.52L242.5 346.82L243.75 351.87L245 354.42L246.25 358.22L247.5 360L248.75 358.75L250 356.25L251.25 360L252.5 364.5L253.75 367L255 363.25L256.25 368.25L257.5 365.75L258.75 364.5L260 370.75L261.25 369.5L262.5 372L263.75 369.5L265 368.25L266.25 372L267.5 369.5L268.75 373.25L270 375.75L271.25 377L272.5 378.88L273.75 379.5L275 379.5L277.5 379.5L280 379.5L281.25 377.83L282.5 368.67L283.75 354.25L285 350.5L285.62 365.5L286.25 355.5L287.5 361.75L288.75 341.75L289.38 328L290 336.75L291.25 344.25L292.5 349.25L293.75 338L295 343L296.25 345.5L297.5 348L298.75 351.75L300 355.5L301.25 348L302.5 346.75L303.5 350.5L303.5 357.5L302.5 355L301.25 361.25L300 368.75L298.75 366.25L297.5 361.25L296.25 357.5L295 353.75L293.75 350L292.5 353.75L291.25 355L290 350L288.75 355L287.5 376.25L286.25 375L285 370L283.75 371.25L282.5 379.08L280 380.75L270 380.75L267.5 380.12L265 379.5L262.5 380.12L261.25 378.25L260 379.5L258.75 377L257.5 378.25L256.25 377L255 374.5L253.75 377L252.5 375.75L251.25 371.62L250 368.5L248.75 372.88L247.5 367.25L246.25 370.74L245 369.46L243.75 366.94L242.5 360.66L241.25 378.13L241.19 370.81L239.29 368.87L237.38 366.93L235.48 363.08L233.57 364.95L231.67 363L229.76 359.16L227.86 355.31L225.95 353.36L224.05 351.42L222.14 347.57L221.19 359.67L220.24 379.33L212.62 379.67L210.71 377L210 355.69L208.1 361.21L206.19 370.55L204.29 375.2L202.38 372.38L200.48 374.32L198.57 368.63L196.67 361.05L194.76 355.37L192.86 357.3L190.95 366.86L189.05 374.51L187.14 365.02L185.24 359.34L183.33 368.9L181.43 363.22L179.52 376.58L177.62 363.28L175.71 359.54L174.1 344.5L172.19 335.21L170.29 325.96L169.33 318.48L168.38 330.04L167.43 372.08L166.48 376.98L164.57 379.11L160.76 378.28L158.86 377.4L156.95 376.51L155.05 379.43L145.52 379.45L138 379.6L135.5 379.52L134.25 379.05L133 378.93L131.75 378.8L130.5 378.68L129.25 377.93L128 376.55L126.75 375.18L125.5 377.55L124.25 376.25L123 375L121.75 376.25L120.5 376.25L119.25 375L118 372.5L116.75 368.75L115.5 367.5L114.25 370L113 373.75L111.75 375L110.5 372.5L109.25 367.5L108 368.75L106.75 371.25L105.5 373.75L104.25 372.5L103 368.75L101.75 375L100.5 378.12L100 361.25L98.75 362.5L96.88 367.5L95 363.75L92.5 365.62L90.62 367.34L88.75 371.26L87.5 373.77L86.25 375.66L85 376.29L83.75 378.8L82 380.12L63.5 380.27Z" fill="#f07458" fill-opacity="0.22" stroke="none"/>
<path d="M63.5 379.7L64.09 379.64L64.76 378.85L65.44 378.4L65.6 372.81L65.87 376.5L66.24 379.14L66.78 377.77L67.27 376.14L67.5 373.38L68.02 378.62L68.71 379.8L69.36 379.07L69.99 379.34L70 378.15L70.66 379.2L71.09 379.29L71.66 379.76L72.1 379.7L72.5 370.79L72.9 375.75L73.28 379.57L73.75 374.52L74.04 376.36L74.43 379.51L75.12 379.1L75.65 378.7L76.2 378.44L76.96 378.19L77.33 379.26L77.5 376.62L77.72 377.9L78.52 379.05L79.13 379.43L79.53 379.23L80.36 378.6L81.18 376.14L81.59 376.13L82.15 373.28L82.58 377.04L83.09 372.23L83.75 375.53L84.19 371.61L84.88 373.59L85.27 371.58L85.71 372.1L86.46 369.11L87.01 365.48L87.57 362.75L88.22 362.8L88.81 366.18L89.35 361.14L89.73 362.27L90.43 365.16L91.26 357.61L91.88 353.94L92.09 359.04L92.77 360.22L93.3 358.54L93.83 354.86L94.52 354.85L95.21 353.58L95.62 357.59L96.09 354.42L96.63 350.78L97.23 352.89L97.25 343L97.98 349.66L98.58 346.34L98.96 351.06L99.71 346.18L100.28 360L100.89 347.86L101.12 324L101.35 353.62L101.92 360.54L102.46 359.92L103.2 361.87L103.6 363.86L104.23 359.19L104.67 352.51L105.37 359.3L105.5 344.25L105.75 344.99L106.24 351.61L106.76 352.7L107.43 361.19L107.81 365.64L108.39 356.93L108.85 358.49L109.35 355.87L109.94 357.27L110.76 366.21L111.35 364.77L112.17 365.26L112.61 363.87L113.41 361.72L113.95 361.39L114.4 356.34L115.12 362.67L115.5 348L115.92 349.25L116.28 350.34L116.77 360.3L117.5 361.79L118.02 368.55L118.5 359.02L118.86 361.33L119.24 365.62L119.9 370.21L120.5 348L120.73 364.4L121.57 356.54L122.17 359.11L122.54 362.02L123.06 345.84L123.8 350.97L124.25 344.25L124.55 359.09L125.22 361.38L125.69 365.63L126.3 368.28L126.75 348.35L126.89 349.82L127.56 369.6L128.04 363.53L128.86 364.41L129.64 365.97L130.08 356.11L130.5 352.85L130.58 353.89L131.36 370.77L131.86 367.47L132.67 371.48L133 362.1L133.28 370.14L133.97 376.25L134.67 374.88L135.13 369.02L135.5 358.78L135.63 360.17L136.11 372.65L136.8 375.8L137.49 376.01L137.9 369.72L137.91 370L138.7 375.36L139.26 376.77L139.74 372.4L140.31 372.78L141.14 375.07L141.77 377.65L142.42 377.26L143.23 372.8L143.62 370.1L144.05 370.99L144.77 373.28L145.33 376.97L145.98 378.14L146.77 371.47L147.43 366.54L147.51 366.71L148.15 369.19L148.67 372.75L149.21 372.86L149.92 375.98L150.55 376.98L150.92 378.06L151.62 375.65L152.42 376.65L153.16 374.55L153.95 372.4L154.75 375.61L155.36 372.25L156.1 363.15L156.64 357.98L157.05 366.11L157.58 369.58L157.9 346.17L158.09 365.11L158.9 350.89L159.59 370.26L160.21 355.69L160.87 358.48L161.29 361.58L161.91 360.38L162.6 364.13L163.15 370.43L163.63 370.02L164.18 368.82L164.7 371.22L165.39 365.12L165.82 366.89L166.22 372.37L166.73 354L167.42 361.22L168.15 321.78L168.82 300.67L169.33 281.66L169.63 310.34L170.17 309.11L170.54 310.94L171.14 315.51L171.71 329.22L172.16 331.37L172.84 332.3L173.36 336.79L173.83 335.45L174.35 338.52L175.17 343.01L175.53 344.08L176.06 353.59L176.56 348.43L177.01 346.71L177.58 355.48L178.05 341.11L178.85 353.29L179.45 328.59L179.52 318.78L180.14 323.71L180.58 327.2L181.16 342.09L181.81 332.61L182.58 351.69L183.06 327.6L183.33 322.46L183.64 344.93L184.41 351.51L185.17 337.31L185.64 326.3L186.26 317.62L186.98 328.67L187.14 305.19L187.53 322.51L188.22 349.94L188.89 358.29L189.72 355.67L190.35 342.19L191.03 343.27L191.56 355.51L192.27 333.65L192.79 331.66L193.39 329.52L193.92 341.47L194.43 344.83L194.76 323.97L194.85 344.49L195.32 326.93L195.94 327.47L196.42 340.65L196.81 339.18L197.55 338.09L198.05 350.95L198.86 361.3L199.51 349.1L200.05 349.22L200.48 339.01L200.83 362.73L201.62 357.38L202.14 358.11L202.56 350.92L203.22 357.25L203.99 364.12L204.64 352.02L205.38 363.39L205.93 353.52L206.59 336.12L207.08 351.59L207.63 348.19L208.1 324.24L208.18 328.42L208.72 346.49L209.27 352.13L210.02 336.26L210.46 355.8L210.92 365.39L211.4 370.09L212.23 372.66L212.84 372.15L213.22 373.08L213.98 372.34L214.76 376.87L215.52 374.73L216.05 374.19L216.76 376.96L217.27 377.24L217.7 375.88L218.47 374.32L219.23 372.01L219.69 370.93L220.47 369.68L220.85 351.25L221.35 332.62L221.72 328.44L222.14 323.62L222.16 327.2L222.6 337.92L223.3 342.6L223.81 337.77L224.26 345.88L224.71 341.5L225.22 347.58L225.99 342.47L226.64 338.16L227.05 342.2L227.74 346.04L228.36 350.32L228.93 354.49L229.55 345.43L230.22 351.74L230.96 353.91L231.56 356.38L232.23 352.19L232.81 358.33L233.48 350.65L234.03 354.26L234.58 352.91L235.19 351.17L235.48 347.02L235.9 356.16L236.39 355.61L237.19 357.02L237.79 357.95L238.56 363.19L239.25 356.61L239.29 349.07L240.07 355.42L240.76 365.23L241.32 367.58L241.88 364.52L242.5 346.82L242.53 346.94L243.25 354.66L244.01 352.41L244.44 358.67L244.83 354.73L245.24 355.14L245.64 361.42L246.03 367.4L246.39 359.93L246.87 362.49L247.28 363.44L247.97 359.74L248.63 367.65L249.45 366.66L250 356.25L250.27 357.34L250.99 361.8L251.81 367.47L252.18 368L252.65 371.56L253.45 367.5L254.04 372.27L254.5 366.3L255 363.25L255.22 364.15L255.79 371.32L256.41 370.57L256.92 373.33L257.4 369.36L257.8 371.78L258.45 367.4L258.75 364.5L259.27 373.78L260.1 371.03L260.83 370.55L261.25 369.5L261.64 370.27L262.17 372.14L262.67 375.69L263.48 372.17L264.12 370.73L264.81 371.04L265 368.25L265.17 373.83L265.64 375.83L266.23 377.52L266.94 377.91L267.5 369.5L267.7 376.31L268.42 377.24L268.95 378.41L269.49 379.68L270.26 379.26L271.1 379.56L271.69 379.66L272.14 379.95L272.8 379.42L273.42 380.02L273.96 379.63L274.43 379.84L274.97 380.1L275.62 379.81L276.05 380.06L276.67 380.09L277.48 380.31L278.2 380.09L278.68 380.19L279.24 380.07L279.65 380.11L280.36 379.91L281.03 378.75L281.47 378.11L282.09 377.5L282.74 371.17L283.38 362.19L283.92 365.32L284.43 362.56L284.96 359.27L285 350.5L285.8 368.09L286.25 355.5L286.32 356.62L286.92 363.52L287.5 370.5L287.94 363.43L288.49 350.38L288.95 347.53L289.38 328L289.47 331.33L290 344.57L290.53 345.68L291.34 352.65L291.84 350.82L292.36 352.65L293.04 347.8L293.59 345.6L293.75 338L294.2 345.71L294.87 348.76L295.26 350.36L295.94 350.6L296.35 351.22L296.83 346.81L297.58 348.24L298.42 358.04L299.1 361.67L299.54 361.71L300.11 356.78L300.61 358.28L301.37 349.15L301.84 347.78L302.3 350.68L302.5 346.75L302.96 351.29L302.96 353.13L302.5 347.74L302.3 352.85L301.84 350.39L301.37 352.22L300.61 361.46L300.11 359.96L299.54 365L299.1 365.07L298.42 361.44L297.58 350.21L296.83 349.83L296.35 354.13L295.94 353.4L295.26 353.01L294.87 351.37L294.2 348.48L293.75 339.44L293.59 348.24L293.04 349.66L292.36 353.89L291.84 352.68L291.34 354.91L290.53 348.61L290 347.75L289.47 336.82L289.38 330.94L288.95 351.58L288.49 353.63L287.94 366.8L287.5 373.98L286.92 367.56L286.32 361.24L286.25 357.84L285.8 370.6L285 352.84L284.96 363.93L284.43 366.97L283.92 369.48L283.38 365.8L282.74 373.98L282.09 379.35L281.47 378.96L281.03 379.35L280.36 380.51L279.65 380.71L279.24 380.67L278.68 380.79L278.2 380.69L277.48 380.91L276.67 380.69L276.05 380.66L275.62 380.41L274.97 380.7L274.43 380.44L273.96 380.23L273.42 380.62L272.8 380.02L272.14 380.55L271.69 380.4L271.1 380.5L270.26 380.4L269.49 380.62L268.95 380.05L268.42 379.18L267.7 378.73L267.5 370.77L266.94 379.99L266.23 379.41L265.64 378.1L265.17 376.42L265 369.6L264.81 373.7L264.12 373.27L263.48 374.53L262.67 377.71L262.17 374.13L261.64 371.96L261.25 370.55L260.83 372.65L260.1 373.13L259.27 376.41L258.75 366L258.45 370.4L257.8 374.78L257.4 372.28L256.92 375.91L256.41 372.78L255.79 373.64L255.22 366.21L255 364.6L254.5 368.89L254.04 374.74L253.45 369.97L252.65 374.22L252.18 370.73L251.81 370.22L250.99 364.62L250.27 360.25L250 357.72L249.45 369.79L248.63 370.88L247.97 362.1L247.28 365.4L246.87 364.86L246.39 362.79L246.03 370.51L245.64 364.72L245.24 357.6L244.83 358.34L244.44 362.28L244.01 355.65L243.25 358.16L242.53 349.38L242.5 348.48L241.88 368.29L241.32 371.76L240.76 369.62L240.07 359.98L239.29 351.45L239.25 361.35L238.56 367.59L237.79 361.99L237.19 360.87L236.39 359.46L235.9 360.01L235.48 348.94L235.19 355.03L234.58 356.77L234.03 358.12L233.48 354.52L232.81 362.19L232.23 356.06L231.56 360.23L230.96 357.62L230.22 355.27L229.55 348.91L228.93 357.48L228.36 354.09L227.74 349.93L227.05 346.1L226.64 342.06L225.99 346.37L225.22 351.48L224.71 345.4L224.26 349.79L223.81 341.68L223.3 346.51L222.6 342.79L222.16 332.91L222.14 326.5L221.72 332.75L221.35 338.43L220.85 355.89L220.47 372.8L219.69 372.5L219.23 373.92L218.47 376.05L217.7 377.42L217.27 378.68L216.76 378.27L216.05 375.5L215.52 376.16L214.76 378.45L213.98 374.04L213.22 375.33L212.84 374.86L212.23 375.98L211.4 374.13L210.92 369.84L210.46 360.62L210.02 341.41L209.27 357.8L208.72 354.15L208.18 337.13L208.1 328.68L207.63 357.08L207.08 360.49L206.59 345.03L205.93 361.98L205.38 370.86L204.64 358.17L203.99 369.67L203.22 362.89L202.56 356.63L202.14 364.2L201.62 364.21L200.83 370.69L200.48 343.25L200.05 357.18L199.51 356.41L198.86 367.82L198.05 357.5L197.55 345L196.81 346.62L196.42 348.19L195.94 333.92L195.32 334.46L194.85 352.02L194.76 327.74L194.43 352.12L193.92 348.4L193.39 335.77L192.79 336.17L192.27 340.5L191.56 363.21L191.03 351.61L190.35 351.79L189.72 366.46L188.89 370.55L188.22 363.01L187.53 336.41L187.14 312.37L186.98 342.38L186.26 324.04L185.64 333.02L185.17 344.06L184.41 360.07L183.64 355.34L183.33 328.03L183.06 338.15L182.58 361.2L181.81 340.47L181.16 350.07L180.58 335.7L180.14 332.49L179.52 325.72L179.45 342.1L178.85 363.91L178.05 347.88L177.58 360.21L177.01 351.57L176.56 353.39L176.06 358.67L175.53 348.92L175.17 347.22L174.35 341.33L173.83 337.75L173.36 338.96L172.84 334.48L172.16 333.72L171.71 332.1L171.14 319.11L170.54 315.51L170.17 314.57L169.63 317.97L169.33 286.08L168.82 306.93L168.15 326.9L167.42 369.75L166.73 360.01L166.22 377.08L165.82 371.01L165.39 368.61L164.7 373.7L164.18 371.55L163.63 373.38L163.15 374.33L162.6 368.61L161.91 365.15L161.29 366.6L160.87 363.67L160.21 361.39L159.59 376.57L158.9 358.11L158.09 372.47L157.9 349.87L157.58 376.07L157.05 371.13L156.64 362.5L156.1 367.38L155.36 376.03L154.75 379.13L153.95 375.71L153.16 377.66L152.42 378.87L151.62 376.9L150.92 379.07L150.55 378.26L149.92 377.71L149.21 375.07L148.67 375.22L148.15 371.93L147.51 368.37L147.43 368.09L146.77 373.94L145.98 379.45L145.33 378.36L144.77 374.95L144.05 372.99L143.62 371.22L143.23 374.78L142.42 378.68L141.77 378.61L141.14 376.28L140.31 374.32L139.74 374.29L139.26 378.78L138.7 377.53L137.91 372.36L137.9 370.9L137.49 378.34L136.8 378.07L136.11 376.3L135.63 364.87L135.5 361.27L135.13 373.18L134.67 378.02L133.97 378.87L133.28 373.77L133 364.12L132.67 375.28L131.86 370.72L131.36 374.88L130.58 359.89L130.5 355.95L130.08 361.47L129.64 370.44L128.86 368.09L128.04 367.24L127.56 374.28L126.89 353.45L126.75 351.57L126.3 374.41L125.69 371.33L125.22 367.42L124.55 366.26L124.25 348.09L123.8 358.43L123.06 352.95L122.54 368.44L122.17 365L121.57 362.03L120.73 370.9L120.5 351.39L119.9 375.65L119.24 369.99L118.86 365.34L118.5 362.68L118.02 371.76L117.5 365.33L116.77 364.37L116.28 353.91L115.92 353.25L115.5 350.34L115.12 366.89L114.4 359.7L113.95 364.57L113.41 364.9L112.61 367.24L112.17 368.84L111.35 368.45L110.76 369.75L109.94 360.62L109.35 359.07L108.85 361.95L108.39 360.72L107.81 369.12L107.43 365.96L106.76 358.26L106.24 357.8L105.75 350.95L105.5 347.79L105.37 366.13L104.67 358.01L104.23 363.86L103.6 368.23L103.2 366.04L102.46 365.02L101.92 366.7L101.35 364L101.12 330.31L100.89 359.52L100.28 367.3L99.71 350.1L98.96 355.34L98.58 350.86L97.98 354.69L97.25 345.82L97.23 358.52L96.63 355.62L96.09 358.22L95.62 360.47L95.21 356.15L94.52 357.25L93.83 357.22L93.3 361.03L92.77 362.87L92.09 361.91L91.88 355.41L91.26 360.39L90.43 367.74L89.73 365.01L89.35 363.93L88.81 369.05L88.22 365.59L87.57 365.43L87.01 368.02L86.46 371.56L85.71 374.33L85.27 373.65L84.88 375.56L84.19 373.58L83.75 377.5L83.09 374L82.58 378.78L82.15 374.99L81.59 377.62L81.18 377.4L80.36 379.39L79.53 379.83L79.13 380.03L78.52 379.65L77.72 378.53L77.5 377.22L77.33 380.04L76.96 378.86L76.2 379.04L75.65 379.3L75.12 379.7L74.43 380.11L74.04 376.96L73.75 375.2L73.28 380.17L72.9 376.84L72.5 371.92L72.1 380.3L71.66 380.36L71.09 379.89L70.66 379.8L70 378.75L69.99 379.94L69.36 379.67L68.71 380.4L68.02 379.22L67.5 374.2L67.27 377.53L66.78 378.6L66.24 379.74L65.87 377.56L65.6 373.7L65.44 379.95L64.76 379.45L64.09 380.24L63.5 380.3Z" fill="#f07458" fill-opacity="0.5" stroke="none"/>
<path d="M63.5 379.81L64.51 380.17L65.6 372.81L65.7 375.31L66.97 379.83L67.5 373.38L67.85 376.56L69.01 379.93L70 378.33L70.13 378.44L71.23 380.1L71.99 379.55L72.5 370.79L72.71 379.64L73.64 376.63L73.75 374.52L74.79 380L75.64 378.84L76.64 379.64L77.5 376.71L77.53 377.59L78.74 379.97L80 377.74L80.95 380L82.24 374.24L82.98 377.74L84.17 371.1L85.39 374.39L86.19 367.68L87.31 373.41L88.34 360.98L89.62 366.96L90.44 359.02L91.47 365.28L91.88 353.94L92.7 355.1L93.78 364.47L94.67 354.97L95.41 362L96.68 347.56L97.25 343L97.66 363.66L98.96 344.62L99.75 359.19L100.93 328.41L101.12 324L102.12 369.09L103.37 354.31L104.08 369.97L105.01 349.36L105.5 344.25L105.74 371.13L106.89 353.45L107.8 364.92L109.08 356.49L110 369.76L111.17 359.46L112.39 373.05L113.23 362.71L114.27 366.83L115.5 348L115.54 349.24L116.56 365.8L117.47 357.49L118.33 371.5L119.5 355.97L120.32 371.23L120.5 348L121.38 357.07L122.42 369.48L123.45 348.73L124.22 372.7L124.25 344.25L125.32 356.85L126.57 374.65L126.75 348.35L127.46 360.08L128.36 373.99L129.61 360.87L130.5 352.85L130.65 376.25L131.52 365.11L132.22 375.74L133 362.1L133.37 366.94L134.28 378.49L135.26 365.29L135.5 358.78L136.13 376.03L137.21 372.02L137.9 369.72L138.34 378.43L139.23 372.13L139.98 378.8L141.27 375.93L142.51 378.77L143.23 373.23L143.62 370.1L144.26 379.1L145.38 373.77L146.32 378.44L147.43 366.54L147.46 367.24L148.73 378.79L149.79 371.9L150.72 379.29L151.54 375.16L152.39 379.23L153.18 367.43L153.95 377.32L154.77 365.72L155.98 376.65L157 358.11L157.9 346.17L158.18 375.06L159.44 354.34L160.62 373.89L161.35 357.78L162.61 376.18L163.36 365.63L164.53 376.86L165.73 364.1L166.82 373.37L167.77 332.7L168.51 324.07L169.26 292.42L169.33 281.66L170.34 322.33L171.19 316.13L172.21 334.41L173.07 331.68L173.87 342.59L174.74 338.74L175.88 357.23L176.87 346.4L177.81 364.54L178.8 336.99L179.52 318.78L179.83 372.92L180.84 334.2L181.81 363.13L183.09 328.17L183.33 322.46L184.24 358.64L185.08 338.07L185.97 361.11L186.78 315.54L187.14 305.19L187.7 366.23L188.42 327.8L189.56 370.79L190.6 332.2L191.56 357.34L192.79 331.96L193.69 350.23L194.74 326.17L194.76 323.97L195.99 351.22L197.03 332.94L198.1 366.09L199.02 345.31L200.32 371.17L200.48 339.01L201.47 348.67L202.35 370.59L203.26 352.15L204.32 375.03L205.33 342.57L206.34 369.77L207.16 333.01L208.1 324.24L208.2 352.99L209.33 334.27L210.49 368.56L211.46 363.33L212.42 376.88L213.43 373.09L214.45 379.42L215.43 374.49L216.14 379.11L217 375.07L218.29 378.14L219.49 372.36L220.47 372.48L221.62 334.31L222.14 323.62L222.44 347.8L223.3 334.93L224.31 351.54L225.43 337.2L226.15 349.8L227.13 340.66L228.38 355.57L229.45 345L230.74 359.54L231.5 347.03L232.75 360.82L233.95 350.02L234.66 363.65L235.48 347.02L235.69 349.51L236.84 364.18L237.67 353.79L238.76 367.1L239.29 349.07L239.97 351.61L241.15 368.53L242.11 352.64L242.5 346.82L242.84 361.92L243.87 354.88L244.68 365.55L245.7 359.38L246.56 368.02L247.47 360.83L248.5 369.22L249.69 357.54L250 356.25L250.98 370.65L251.92 362.99L252.62 374.4L253.77 367.45L254.68 373.96L255 363.25L255.83 368.52L257.03 376.07L257.75 366.12L258.75 364.5L258.89 376.91L259.76 369.56L260.65 378.74L261.25 369.5L261.55 370.67L262.58 378.64L263.42 372.18L264.42 378.6L265 368.25L265.29 369.23L266.06 378.6L266.91 372.88L267.5 369.5L268.02 380.22L268.91 374.65L269.73 379.32L270.65 376.75L271.48 380.25L272.77 379.36L273.94 380.54L274.73 379.55L275.61 380.5L276.57 379.68L277.58 380.54L278.52 379.69L279.53 380.49L280.69 378.83L281.48 378.93L282.52 368.78L283.31 373.89L284.33 353.12L285 350.5L285.23 369L286.25 355.5L286.41 359.68L287.64 370.65L288.91 338.27L289.38 328L289.85 350.55L290.92 343.38L291.73 353.15L292.85 346.74L293.75 338L294.02 349.99L294.98 343.45L295.87 354.28L297.02 348.98L298.17 360.63L299.35 354.7L300.23 365.82L301.07 352.26L301.92 356.04L302.5 346.75L302.74 348.16L303.44 356.06" fill="none" stroke="#ec6549" stroke-width="0.7" stroke-opacity="0.9" stroke-linejoin="round"/>
<path d="M63.75 374.5L65 373.5L66.25 374.25L67.5 375.1L68.75 375.5L70 376L71.25 376.4L72.5 376.4L73.75 377L75 377.25L76.25 377.6L77.5 378L78.75 378.25L80 378L81.25 377L81.9 375.1L82.5 374.5" fill="none" stroke="#111" stroke-opacity="0.75" stroke-width="0.6" stroke-linejoin="round"/>
<path d="M63.45 374.52h0.6M64.35 374.37h0.6M64.7 373.99h0.6M65.25 374.62h0.6M65.95 374.32h0.6M66.15 375.02h0.6M67.05 375.45h0.6M67.2 374.88h0.6M67.95 376.13h0.6M68.45 375.34h0.6M68.85 374.99h0.6M69.7 375.79h0.6M69.75 375.61h0.6M70.65 376.06h0.6M70.95 376.91h0.6M71.55 376.39h0.6M72.2 377.37h0.6M72.45 376.42h0.6M73.35 377.33h0.6M73.45 377.07h0.6M74.25 376.25h0.6M74.7 377.38h0.6M75.15 377.68h0.6M75.95 378.22h0.6M76.05 377.04h0.6M76.95 378.57h0.6M77.2 378.76h0.6M77.85 377.75h0.6M78.45 378.54h0.6M78.75 378.98h0.6M79.65 377.13h0.6M79.7 378.36h0.6M80.55 376.25h0.6M80.95 377.2h0.6M81.45 376.47h0.6M81.6 375.02h0.6M82.2 374.93h0.6" stroke="#111" stroke-width="0.8" stroke-linecap="round" stroke-opacity="0.85"/>
<path d="M98 360.12L99.25 360.75L100.5 359.5L101.75 357L103 360.75L104.25 360.12L105.5 359.5L106.75 359.75L108 358.88L109.25 357L110.5 360.75L111.75 363.25L113 369.5L114.25 363.25L115.5 359.5L116.75 363.25L118 365.75L119.25 367L120.5 368.25L121.75 369.5L123 370.12L124.25 370.75L125.5 371.38L126.75 372L128 372.62L129.25 373.25L130.5 373.88L131.75 374.5L133 375.12L134.25 373.88L135.5 374.5L136.75 375.12L138 375.75L139.81 376.29L141.71 375.33L143.62 373.43L145.52 367.71L147.43 366.76L149.33 365.81L151.24 366.76L153.14 367.71L155.05 373.43L156.95 375.33L158.86 375.33L160.76 374.95L162.67 374.38L164.57 373.43" fill="none" stroke="#111" stroke-opacity="0.4" stroke-width="0.45" stroke-linejoin="round"/>
<path d="M97.7 360.29h0.6M98.95 360.73h0.6M100.2 359.41h0.6M101.45 356.43h0.6M102.7 361.23h0.6M103.95 359.94h0.6M105.2 359.76h0.6M106.45 359.61h0.6M107.7 359.39h0.6M108.95 356.98h0.6M110.2 360.94h0.6M111.45 363.67h0.6M112.7 369.41h0.6M113.95 363.15h0.6M115.2 359.44h0.6M116.45 363.3h0.6M117.7 366.03h0.6M118.95 367.13h0.6M120.2 368.3h0.6M121.45 369.9h0.6M122.7 370.22h0.6M123.95 370.24h0.6M125.2 372.04h0.6M126.45 371.17h0.6M127.7 373.59h0.6M128.95 372.51h0.6M130.2 373.21h0.6M131.45 374.16h0.6M132.7 375.59h0.6M133.95 373.45h0.6M135.2 374.88h0.6M136.45 375.6h0.6M137.7 375.44h0.6M138.95 376.06h0.6M139.51 376.55h0.6M140.2 376.12h0.6M141.41 375.04h0.6M141.45 374.43h0.6M142.7 373.76h0.6M143.32 372.99h0.6M143.95 371.58h0.6M145.2 367.79h0.6M145.22 367.37h0.6M146.45 366.59h0.6M147.13 366.47h0.6M147.7 366.56h0.6M148.95 366.08h0.6M149.03 366.03h0.6M150.2 366.86h0.6M150.94 367.25h0.6M151.45 366.79h0.6M152.7 368.24h0.6M152.84 367.15h0.6M153.95 371.31h0.6M154.75 373.4h0.6M155.2 373.01h0.6M156.45 375.88h0.6M156.65 376.36h0.6M157.7 375.89h0.6M158.56 374.6h0.6M158.95 374.08h0.6M160.2 375.36h0.6M160.46 375.09h0.6M161.45 374.31h0.6M162.37 374.01h0.6M162.7 373.32h0.6M163.95 373.61h0.6M164.27 372.36h0.6" stroke="#111" stroke-width="0.8" stroke-linecap="round" stroke-opacity="0.85"/>
<path d="M164.6 373.4L165.5 372L166.5 371.5L167.3 368L167.8 347L168.2 322L168.6 312.4L169 327L169.4 314L169.8 330L170.2 316L170.6 332L171 319L171.4 333L171.8 322L172.2 330L172.6 327L173 337L173.4 332L173.8 343L174.3 335L174.8 331.5L175.3 336L175.7 330.6L176.2 335L176.7 331.5L177.2 344L177.6 339.1L178.6 344.9" fill="none" stroke="#111" stroke-opacity="0.85" stroke-width="1.1" stroke-linejoin="round"/>
<path d="M170 319.63L170.35 318.27L170.7 319.45L170.95 318.55L171.05 318.59L171.4 326.31L171.75 323.49L171.9 323.35L172.1 329.26L172.45 335.25L172.8 336.3L172.86 336.59L173.15 334.14L173.5 341.17L173.81 343.45L173.85 339.25L174.2 336.08L174.55 335.85L174.76 330.12L174.9 330.26L175.25 330.11L175.6 331.27L175.71 330.17L175.95 330.62L176.3 332.31L176.65 335.07L176.67 334.89L177 336.74L177.35 338.91L177.62 333.45L177.7 339.58L178.05 345.04L178.4 345.36L178.57 343.94" fill="none" stroke="#111" stroke-opacity="0.8" stroke-width="1.0" stroke-linejoin="round"/>
<path d="M191.5 346L192.3 331.8L193.1 328.4L193.8 329.5L194.2 337.5L194.7 334.1L195.1 346.6L195.6 343.2L196 353.5L196.8 351.2L197.4 358L198.5 359.2L199.7 358L200.3 362.6L200.8 360.3L201.4 364.9L202 362.6L202.5 367.2L203.1 364.9L203.7 369.5L204.2 367.2L204.8 359.2" fill="none" stroke="#111" stroke-opacity="0.85" stroke-width="1.0" stroke-linejoin="round"/>
<path d="M204.8 359.2L205.4 339.8L206 325L206.5 323.8L206.9 334.1L207.2 345.5L207.7 354.6" fill="none" stroke="#111" stroke-opacity="0.6" stroke-width="0.8" stroke-linejoin="round"/>
<path d="M207.7 354.6L208.5 354L209.5 358L210.5 360L211 363L212 366.5L212.6 369.6" fill="none" stroke="#111" stroke-opacity="0.5" stroke-width="0.4" stroke-linejoin="round"/>
<path d="M207.4 353.82h0.6M208.2 353.29h0.6M208.3 353.64h0.6M209.2 358.21h0.6M210.1 360.36h0.6M210.2 359.77h0.6M210.7 362.92h0.6M211 363.25h0.6M211.7 366.59h0.6M211.9 367.43h0.6M212.3 370.43h0.6" stroke="#111" stroke-width="0.8" stroke-linecap="round" stroke-opacity="0.85"/>
<path d="M225.95 326.14L226.25 324.36L226.55 328.6L226.85 324.36L226.9 325.63L227.15 333.76L227.45 328.93L227.75 332.75L227.86 328.43L228.05 337.44L228.35 338.3L228.65 341.64L228.81 337.99L228.95 341.85L229.25 339.82L229.55 346.43L229.76 340.36L229.85 350.74L230.15 358.93L230.45 363.61L230.71 372.02L230.75 369.89L231.05 365.21L231.35 348.35L231.65 337.23L231.67 338.75L231.95 347.72L232.25 331.96L232.55 331.56L232.62 331.02L232.85 334.87L233.15 331.56L233.45 335.36L233.57 333.08L233.75 338.02L234.05 332.62L234.35 331.71L234.52 333.99L234.65 332.82L234.95 337.36L235.25 337.53L235.48 340.59L235.55 341.37L235.85 348.2L236.15 352.12L236.43 353.09L236.45 354.5L236.75 347.12L237.05 346.77L237.35 341.95L237.38 338.51L237.65 339.93L237.95 336.79L238.25 335.02L238.33 331.73L238.55 333.65L238.85 338.02L239.15 331.29L239.29 331.05L239.45 333.59L239.75 338.45L240.05 342.76L240.24 345.36L240.35 341.87L240.65 340.96L240.95 337.46L241.19 336.74L241.25 336.79L241.55 337.27L241.85 337.51L242.14 337.19L242.15 336.9L242.45 339.06L242.75 335.12L243.05 334.05L243.1 340.66L243.35 331.77L243.65 333L243.95 333.77L244.05 331.02L244.25 343.18L244.38 353.35L244.55 349.14L244.85 338.66L245 337.03L245.15 335.82L245.45 332.39L245.62 327.75L245.75 333.01L246.05 338.89L246.25 337.39L246.35 331.4L246.65 345.85L246.88 351.1L246.95 346.66L247.25 349.76L247.5 345.91L247.55 350.51L247.85 348.6L248.12 339.88L248.15 342.54L248.45 340.06L248.75 339.48L248.75 341.26L249.05 339.7L249.35 337.63L249.38 347.05L249.65 340.84L249.95 339.9L250 335.25L250.25 341.82L250.55 344.29L250.62 348.97L250.85 347.16L251.15 342.94L251.25 343.78L251.45 337.56L251.75 342.43L251.88 337.28L252.05 340.55L252.35 341.94L252.5 342.08L252.65 342.63L252.95 337.58L253.12 345.24L253.25 343.56L253.55 341.16L253.75 340.55L253.85 341.16L254.15 349.84L254.38 345.85L254.45 344.94L254.75 350.94L255 347.73L255.05 346.96L255.35 350.01L255.62 347.53L255.65 348.64L255.95 352.52L256.25 352.04L256.25 352.59L256.55 353.9L256.85 350.98L256.88 351.49L257.15 356.19L257.45 358.14L257.5 358.75L257.75 354.25L258.05 352.51L258.12 351.5L258.35 352.41L258.65 355.68L258.75 354.38L258.95 352.41L259.25 358.27L259.38 357.2L259.55 360.64L259.85 357.42L260 358.5L260.15 358.18L260.45 355.95L260.62 356.03L260.75 356.67L261.05 361.76L261.25 360.8L261.35 361.32L261.65 360.78L261.88 358.05L261.95 363.85L262.25 364.38L262.5 366.05L262.55 363.94L262.85 362.91L263.12 360.92L263.15 360.71L263.45 365.06L263.75 365.11L263.75 366.24L264.05 365.06L264.35 365.34L264.38 360.85L264.65 361.02L264.95 362.09L265 359.17L265.25 361.98L265.55 366.83L265.62 360.9L265.85 367.15L266.15 365.43L266.25 367.4L266.45 367.15L266.75 366.5L266.88 365.21L267.05 367.16L267.35 365.23L267.5 367.38L267.65 366.51L267.95 367.37L268.12 369.35L268.25 369.26L268.55 368.42L268.75 367.09L268.85 367.19L269.15 368.59L269.38 368.18L269.45 369.69L269.75 368.2L270 370L270.05 368.04L270.35 368.58L270.62 370.47L270.65 367.47L270.95 368.94L271.25 368.47L271.25 367.35L271.55 369.89L271.85 371.8L271.88 369.63L272.15 371.09L272.45 371.8L272.5 371.44L272.75 371.5L273.05 371.8L273.12 371.35L273.35 370.78L273.65 371.6L273.75 368L273.95 369.45L274.25 371.2L274.38 371.76L274.55 372.13L274.85 371.43L275 368.84L275.15 369.19L275.45 369.85L275.62 371.56L275.75 373.48L276.05 373.63L276.25 373.73L276.35 373.72L276.65 373.63L276.95 372.25L277.25 372.84L277.5 373.32L277.55 373.05L277.85 373.27L278.15 372.59L278.45 372.68L278.75 372.22L278.75 373.1L279.05 372.62L279.35 373.06L279.65 372.27L279.95 373.74L280 371.55L280.25 372.25L280.55 372.91L280.62 371.5L280.85 373.49L281.15 374.91L281.25 374.01L281.45 375.53L281.75 373.04L281.88 374.06L282.05 373.35L282.35 371.47L282.5 371.1L282.65 372.97L282.95 374.36L283.12 370.55L283.25 373.4L283.55 373.2L283.75 371.12L283.85 372.03L284.15 371.08L284.38 369L284.45 372.06L284.75 369.67L285 369.92L285.05 375L285.35 374.97L285.62 375L285.65 372.36L285.95 373.84L286.25 374.16L286.25 375L286.55 374.76L286.85 374.82L287.15 367.96L287.45 368.71L287.5 365.15L287.75 367.8L288.05 370.8L288.12 372.13L288.35 369.25L288.65 364.49L288.75 363.61L288.95 347.23L289.25 343.62L289.38 334L289.55 337.82L289.85 339.05L290 347.78L290.15 350.41L290.45 348.34L290.62 356.51L290.75 352.97L291.05 352.97L291.25 357.5L291.35 355.86L291.65 352.64L291.88 347.26L291.95 352.91L292.25 339.79L292.5 334.15L292.55 340.61L292.85 340.6L293.12 345.95L293.15 330.9L293.45 337.19L293.75 343.19L293.75 343.56L294.05 332.85L294.35 330.54L294.38 330.25L294.65 331.36L294.95 333.71L295 332.92L295.25 331.75L295.55 330.54L295.62 333.01L295.85 331.36L296.15 337.14L296.25 334.66L296.45 340.53L296.75 334.94L296.88 342.5L297.05 338.78L297.35 336.29L297.5 334.1L297.65 335.02L297.95 335.43L298.12 335.7L298.25 337.5L298.55 334.69L298.75 335.95L298.85 341.49L299.15 342.56L299.38 347.24L299.45 344.15L299.75 339.66L300 345.69L300.05 344.69L300.35 345.41L300.62 342.87L300.65 348.53L300.95 346.13L301.25 340.53L301.25 342.6L301.55 345.35L301.85 336.96L301.88 338.67L302.15 337.44L302.45 334.78L302.5 330.91L302.75 334.69L303.05 332.67L303.12 330.88L303.35 331.88L303.5 333.13" fill="none" stroke="#111" stroke-opacity="0.78" stroke-width="0.9" stroke-linejoin="round"/>
<path d="M81.45 368.25h0.9M82.65 362.6h0.9M84.55 362h0.9M83.3 370.75h0.9M85.8 373.9h0.9M86.45 370.1h0.9M87.65 353.25h0.9M88.95 346.4h0.9M89.15 350.1h0.9M88.05 358.25h0.9M89.55 360.75h0.9M90.15 363.25h0.9M90.8 362h0.9M91.45 364.5h0.9M92.05 360.1h0.9M92.65 360.75h0.9M93.3 363.25h0.9M93.95 358.25h0.9M95.15 357h0.9M96.45 356.4h0.9M97.05 359.5h0.9M98.3 363.25h0.9M98.95 367h0.9M99.3 371.4h0.9M83.95 374.5h0.9M87.05 376h0.9M94.55 361h0.9M95.75 359h0.9M98.8 367h0.9M97.55 371.38h0.9M105.67 371.38h0.9M106.92 368.25h0.9M110.67 376.38h0.9M112.55 370.75h0.9M111.92 370.75h0.9M100.05 364.5h0.9M106.3 364.5h0.9M149.84 358.19h0.9M147.93 363.9h0.9M151.74 362h0.9M179.07 329.62h0.9M180.03 335.33h0.9M180.98 344.86h0.9M181.93 346.76h0.9M182.88 333.43h0.9M183.84 339.14h0.9M184.79 348.67h0.9M185.74 350.57h0.9M186.69 354.38h0.9M187.65 358.19h0.9M188.6 360.1h0.9M189.55 363.9h0.9M190.5 358.19h0.9M179.45 339.14h0.9M181.36 339.14h0.9M184.41 342.95h0.9M186.31 344.86h0.9M188.22 354.38h0.9M190.12 362h0.9M190.15 354.6h0.9M190.65 356.3h0.9M187.85 358h0.9" stroke="#111" stroke-width="0.9" stroke-linecap="round"/></g>
<rect x="26.3" y="277.6" width="290.2" height="103.2" fill="none" stroke="#555" stroke-width="0.7"/>
<path d="M39.6 380.8v2.3M72.32 380.8v2.3M105.58 380.8v2.3M138.3 380.8v2.3M171.56 380.8v2.3M204.46 380.8v2.3M237.72 380.8v2.3M270.44 380.8v2.3M303.7 380.8v2.3M26.3 380.8h-2.3M26.3 355.03h-2.3M26.3 329.25h-2.3M26.3 303.48h-2.3M26.3 277.7h-2.3" stroke="#555" stroke-width="0.7" fill="none"/>
<text x="39.6" y="390.6" text-anchor="middle" textLength="25.6" lengthAdjust="spacingAndGlyphs">2010-01</text>
<text x="72.32" y="390.6" text-anchor="middle" textLength="25.6" lengthAdjust="spacingAndGlyphs">2010-07</text>
<text x="105.58" y="390.6" text-anchor="middle" textLength="25.6" lengthAdjust="spacingAndGlyphs">2011-01</text>
<text x="138.3" y="390.6" text-anchor="middle" textLength="25.6" lengthAdjust="spacingAndGlyphs">2011-07</text>
<text x="171.56" y="390.6" text-anchor="middle" textLength="25.6" lengthAdjust="spacingAndGlyphs">2012-01</text>
<text x="204.46" y="390.6" text-anchor="middle" textLength="25.6" lengthAdjust="spacingAndGlyphs">2012-07</text>
<text x="237.72" y="390.6" text-anchor="middle" textLength="25.6" lengthAdjust="spacingAndGlyphs">2013-01</text>
<text x="270.44" y="390.6" text-anchor="middle" textLength="25.6" lengthAdjust="spacingAndGlyphs">2013-07</text>
<text x="303.7" y="390.6" text-anchor="middle" textLength="25.6" lengthAdjust="spacingAndGlyphs">2014-01</text>
<text x="21.9" y="383.3" text-anchor="end">0</text>
<text x="21.9" y="357.53" text-anchor="end">5</text>
<text x="21.9" y="331.75" text-anchor="end">10</text>
<text x="21.9" y="305.98" text-anchor="end">15</text>
<text x="21.9" y="280.2" text-anchor="end">20</text>
<text x="171.4" y="273.1" text-anchor="middle" style="font-size:8.1px">(c)</text>
<text transform="translate(9.9 329.2) rotate(-90)" x="0" y="0" text-anchor="middle" textLength="102.9" lengthAdjust="spacingAndGlyphs">Metabolite concentration (μg/L)</text>
<clipPath id="clip3"><rect x="26.3" y="409.6" width="290.2" height="103.2"/></clipPath>
<path d="M39.6 409.6V512.8M72.32 409.6V512.8M105.58 409.6V512.8M138.3 409.6V512.8M171.56 409.6V512.8M204.46 409.6V512.8M237.72 409.6V512.8M270.44 409.6V512.8M303.7 409.6V512.8M26.3 505.14H316.5M26.3 481.86H316.5M26.3 458.58H316.5M26.3 435.3H316.5M26.3 412.02H316.5" stroke="#f3f3f3" stroke-width="0.6" fill="none"/>
<g clip-path="url(#clip3)"><path d="M39.3 435.3L39.7 435.3L40.1 435.3L40.5 435.3L40.9 435.3L41.3 435.3L41.7 435.3L42.1 435.3L42.5 435.3L42.9 435.3L43.3 435.3L43.7 435.3L44.1 435.3L44.5 435.3L44.9 435.3L45.3 435.3L45.7 435.3L46.1 435.3L46.5 435.3L46.9 435.3L47.3 435.3L47.7 435.3L48.1 435.3L48.5 435.3L48.9 435.3L49.3 435.3L49.7 435.3L50.1 435.3L50.5 435.3L50.9 435.3L51.3 435.3L51.7 435.3L52.1 435.3L52.5 435.3L52.9 435.3L53.3 435.3L53.7 435.3L54.1 435.3L54.5 435.3L54.9 435.3L55.3 435.3L55.7 435.3L56.1 435.3L56.5 435.3L56.9 435.3L57.3 435.3L57.7 435.3L58.1 435.3L58.5 435.3L58.9 435.3L59.3 435.3L59.7 435.3L60.1 435.3L60.5 435.3L60.9 435.3L61.3 435.3L61.7 435.3L62.1 435.3L62.5 435.3L62.9 435.3L63.3 435.3L63.7 435.3L64.1 435.3L64.5 435.3L64.9 435.3L65.3 435.3L65.7 435.3L66.1 435.3L66.5 435.3L66.9 435.3L67 435.3L67.3 434.87L67.7 434.3L68.1 434.87L68.4 435.3L68.5 435.3L68.9 435.3L69.3 435.3L69.7 435.3L70.1 435.3L70.5 435.3L70.9 435.3L71.3 435.3L71.5 435.3L71.7 434.73L72.1 433.6L72.5 434.73L72.7 435.3L72.9 435.3L73.3 435.3L73.7 435.3L74.1 435.3L74.5 435.3L74.9 435.3L75 435.3L75.3 435.3L75.7 435.3L76.1 435.29L76.5 435.29L76.9 435.29L77.3 435.28L77.7 435.28L78.1 435.28L78.5 435.28L78.9 435.27L79.3 435.27L79.7 435.27L80.1 435.27L80.5 435.26L80.9 435.26L81.3 435.26L81.7 435.26L82.1 435.44L82.5 435.25L82.9 434.18" fill="none" stroke="#6aa56a" stroke-opacity="0.85" stroke-width="0.9"/>
<path d="M82.9 434.18L83.12 434.5L83.3 434.68L83.7 436.14L83.75 434.88L84.1 435.12L84.38 434.25L84.5 434.7L84.9 433.04L85 433.88L85.3 433.23L85.62 433.25L85.7 433.78L86.1 433.56L86.25 432.62L86.5 431.61L86.88 433.5L86.9 433.43L87.3 434.21L87.5 432L87.7 432.63L88.1 433.56L88.12 433L88.5 433.38L88.75 431.75L88.9 430.63L89.3 432.46L89.38 432.62L89.7 431.9L90 430.75L90.1 431.61L90.5 433.29L90.62 432.62L90.9 433.9L91 433.5L91.25 457L91.3 451.79L91.5 433.25L91.7 433.15L91.88 433.25L92.1 432.45L92.5 430.75L92.9 431.42L93.12 431.38L93.3 431.41L93.7 431.42L93.75 430.5L94.1 430.33L94.38 432L94.5 432.29L94.9 432.66L95 431.38L95.3 431.69L95.62 430.75L95.7 432.01L96.1 431.38L96.25 431.75L96.5 431.29L96.88 430.75L96.9 429.21L97.3 428.42L97.5 426.38L97.7 427.21L98.1 428.65L98.12 427.62L98.5 427.83L98.75 427L98.9 427.13L99.3 428.57L99.38 428.88L99.7 430.33L100 433.88L100.1 433.39L100.5 429.04L100.62 428.25L100.9 425.94L101.25 423.25L101.3 423.87L101.7 426.76L101.88 428.25L102.1 430.19L102.5 430.75L102.9 428.37L103.12 429.5L103.3 429.16L103.7 426.66L103.75 428.25L104.1 428.82L104.38 430.12L104.5 430.15L104.9 429.52L105 430.75L105.3 430.95L105.7 430.83L106.1 430.07L106.25 430.75L106.5 431.05L106.9 431.01L107.3 431.08L107.5 431.38L107.7 431.48L108.1 430.35L108.5 433.52L108.75 432L108.9 433.58L109.3 433.65L109.7 433.36L110 432.62L110.1 432.09L110.5 433.72L110.9 433.53L111.25 433.5L111.3 433.42L111.7 433.48L112.1 433.92L112.5 434.25L112.9 434.42L113.3 434.87L113.7 432.6L113.75 433.88L114.1 434.74L114.5 432.96L114.9 433.08L115 433.25L115.3 432.54L115.62 432L115.7 430.97L116.1 433.09L116.25 433.25L116.5 433.51L116.88 433.88L116.9 433.64L117.3 432.9L117.5 432L117.7 430.62L118.1 428.11L118.12 427.62L118.5 433.88L118.9 428.72L119 427.62L119.3 430.76L119.5 433.88L119.7 431.63L120 427L120.1 428.66L120.5 433.88L120.9 428.62L121 427.62L121.3 430.91L121.5 433.25L121.7 434.45L122 433.25L122.1 433.11L122.5 430.75L122.9 433.47L123 433.88L123.3 425.62L123.38 421.38L123.7 431.4L123.75 432.62L124.1 433.76L124.38 434.5L124.5 435.2L124.9 432.54L125 433.88L125.3 435.54L125.62 434.5L125.7 434.35L126.1 434.05L126.25 435.12L126.5 434.42L126.88 434.75L126.9 434.8L127.3 435.18L127.5 435.12L127.7 434.97L128.1 435.06L128.12 435.5L128.5 434.64L128.75 434.75L128.9 433.96L129.3 433.09L129.38 432L129.7 433.97L130 435.12L130.1 436.09L130.5 435.75L130.62 435.75L130.9 436.08L131.25 436.38L131.3 436.62L131.7 437.06L131.88 437L132.1 438.05L132.5 438.25L132.9 436.47L133.12 436.38L133.3 435.32L133.7 433.55L133.75 434.5L134.1 432.92L134.38 430.12L134.5 432.48L134.9 433.22L135 434.5L135.3 435.32L135.62 435.12L135.7 434.09L136.1 435.49L136.25 435.5L136.5 435.65L136.88 435.75L136.9 435.3L137.3 436.27L137.5 436L137.7 435.47L138.1 436.35L138.12 436.38L138.5 437.4L138.75 435.75L138.9 436.56L139.3 434.2L139.38 435.12L139.7 434.24L140 434.75L140.1 436.2L140.5 435.35L140.62 435.12L140.9 432.74L141.25 433.88L141.3 434.01L141.7 431.44L141.88 434.5L142.1 432.9L142.5 433.25L142.9 434.61L143.12 435.12L143.3 435.12L143.7 433.71L143.75 434.5L144.1 434.14L144.38 435.12L144.5 434.86L144.9 434.54L145 433.88L145.3 432.47L145.62 432L145.7 432.13L146.1 432.05L146.25 433.25L146.5 433.59L146.88 434.5L146.9 433.89L147.3 435L147.5 433.88L147.7 434.17L148.1 433.68L148.12 433.25L148.5 433.4L148.75 432.62L148.9 432.82L149.3 432.96L149.38 433.25L149.7 432.74L150 430.75L150.1 430.05L150.5 428.77L150.62 429.5L150.9 425.53L151.25 421.38L151.3 421.96L151.7 425.48L151.88 427L152.1 428.18L152.5 430.75L152.9 431.44L153.12 433.25L153.3 432.59L153.7 432.82L153.75 433.88L154.1 432.77L154.38 432L154.5 432.16L154.9 431.19L155 430.75L155.3 431.6L155.62 432.62L155.7 431.43L156.1 431.1L156.25 430.75L156.5 432.29L156.88 433.88L156.9 433.37L157.3 426.57L157.5 423.25L157.7 426.18L158.1 431.92L158.12 433.25L158.5 433.88L158.75 508.25L158.9 463.9L159 433.88L159.3 430.5L159.38 429.5L159.7 425.42L160 422L160.1 423.8L160.5 430.6L160.62 433.25L160.9 431.89L161.25 433.88L161.3 434.44L161.7 429.09L161.88 427L162.1 423.62L162.5 418.25L162.9 425.63L163.12 429.5L163.3 429.16L163.7 428.39L163.75 428.25L164.1 426.66L164.38 425.75L164.5 427.28L164.9 429.76L165 432L165.3 433.88L165.62 434.5L165.7 432.1L166.1 427.92L166.25 427L166.5 427.03L166.88 429.5L166.9 428.3L167.3 425.82L167.5 424.5L167.7 425.7L168.1 426.08L168.12 425.75L168.5 424.19L168.75 422L168.9 420.91L169.3 418.05L169.38 417.62L169.7 420.12L170 423.25L170.1 422.58L170.5 424.35L170.62 424.5L170.9 425.13L171.25 425.75L171.3 425.29L171.7 426.65L171.88 427.62L172.1 427.49L172.5 427L172.9 426.33L173.12 428.25L173.3 428L173.7 429.2L173.75 430.12L174.1 429.75L174.38 428.25L174.5 428.07L174.9 429.14L175 429.5L175.3 428.44L175.62 427.62L175.7 427.32L176.1 426.88L176.25 428.88L176.5 428.65L176.88 432L176.9 431.71L177.3 434.25L177.5 433.88L177.7 433.54L178.1 435.33L178.12 434.5L178.5 435.17L178.75 435.12L178.9 434.84L179.3 431.38L179.38 430.75L179.7 426.7L180 423.88L180.1 424.47L180.5 428.77L180.62 429.5L180.9 430.62L181.25 430.75L181.3 431.72L181.7 432.07L181.88 432L182.1 430.8L182.5 430.75L182.9 429.39L183.12 429.5L183.3 428.64L183.7 426.16L183.75 425.75L184.1 429.52L184.38 429.5L184.5 428.7L184.9 430.68L185 430.75L185.3 429.47L185.62 428.25L185.7 428.52L186.1 427.89L186.25 427L186.5 426.03L186.88 424.5L186.9 424.11L187.3 430.86L187.5 433.25L187.7 430.45L188.1 426.53L188.12 427L188.5 432.4L188.75 434.5L188.9 433.77L189.3 434.56L189.38 435.12L189.7 434.28L190 435.75L190.1 434.59L190.5 433.75L190.9 432.74L191.12 432.5L191.3 433.95L191.7 432.32L191.75 433.12L192.1 431.71L192.38 432.5L192.5 433.3L192.9 430.92L193 431.88L193.3 433.28L193.62 433.75L193.7 434.53L194.1 432.94L194.25 432.5L194.5 432.21L194.88 430L194.9 429.85L195.3 432.43L195.5 432.5L195.7 430.53L196.1 429.18L196.12 428.75L196.5 431.41L196.75 433.12L196.9 432.37L197.3 435.31L197.38 433.75L197.7 429.98L198 427.5L198.1 427.11L198.5 429.91L198.62 430L198.9 431.15L199.25 433.75L199.3 434.26L199.7 434.8L199.88 434.38L200.1 434.73L200.5 434.38L200.9 434.39L201.12 434.75L201.3 434.24L201.7 435.01L201.75 435L202.1 434.46L202.38 434.38L202.5 434.12L202.9 432.72L203 431.88L203.3 430.68L203.62 430L203.7 430.7L204.1 433.38L204.25 435L204.5 433.36L204.88 431.25L204.9 431.29L205.3 430.11L205.5 430.62L205.7 429.98L206.1 429.6L206.12 430L206.5 429.44L206.75 428.75L206.9 428.33L207.3 427.51L207.38 427.5L207.7 426.93L208 425L208.1 424.07L208.5 421.44L208.62 421.25L208.9 426.28L209.25 433.75L209.3 433.97L209.7 434.22L209.88 434.38L210.1 434.03L210.5 433.75L210.9 432.55L211.12 433.12L211.3 431.75L211.7 429.96L211.75 428.75L212.1 426.53L212.38 423.75L212.5 421.89L212.9 417.58L213 417.5L213.3 421.59L213.62 426.25L213.7 427.35L214.1 432.3L214.25 434.38L214.5 433.97L214.9 433.79L215.3 434.6L215.5 434.75L215.7 434.34L216.1 435.34L216.5 433.66L216.75 434.75L216.9 434.46L217.3 436.43L217.7 435.58L218 434.75L218.1 435.04L218.5 435.14L218.9 434.98L219.25 434.75L219.3 434.01L219.7 433.64L219.88 434.38L220.1 433.63L220.5 433.75L220.9 432.22L221.12 431.25L221.3 428.77L221.7 425.29L221.75 425L222.1 423.76L222.38 423.75L222.5 424.73L222.9 425.2L223 426.25L223.3 424.61L223.62 422.5L223.7 422.94L224.1 422.12L224.25 421.25L224.5 421.49L224.88 422.5L224.9 423.56L225.3 421.06L225.5 418.75L225.7 418.83L226.1 419.57L226.12 420L226.5 419.2L226.75 417.5L226.9 416.87L227.3 414.8L227.38 415L227.7 415.71L228 416.25L228.08 417.07L228.1 416.76L228.3 415.9L228.5 423.69L228.52 423.5L228.74 421.78L228.75 422.81L228.9 421.37L228.96 421.04L229.18 416.73L229.3 418.19L229.4 419.15L229.62 420.63L229.7 418.64L229.84 417.73L230 424.61L230.06 419.85L230.1 419.96L230.28 418.09L230.5 423.11L230.72 417.8L230.9 421.9L230.94 423.54L231.16 420.03L231.25 420.67L231.3 420.52L231.38 419.23L231.6 420.13L231.7 419.55L231.82 418.29L232.04 417.48L232.1 418.67L232.26 422.02L232.48 418.67L232.5 421.4L232.7 418.54L232.9 419.99L232.92 422.34L233.14 421.97L233.3 421.57L233.36 421.27L233.58 421.31L233.7 421.47L233.75 420.4L233.8 421.2L234.02 418.38L234.1 419.22L234.24 420.37L234.46 422.35L234.5 421.23L234.68 419.44L234.9 423.27L234.9 423.27L235 423.19L235.12 421.09L235.3 421.44L235.34 421.38L235.56 422.38L235.7 423.67L235.78 422.54L236 426.72L236.1 425.77L236.22 423.59L236.25 421.42L236.44 422.23L236.5 423.91L236.66 426.85L236.88 429.34L236.9 428.4L237.1 426.47L237.3 426.48L237.32 426.99L237.5 427.88L237.54 429.45L237.7 427.8L237.76 426.14L237.98 429.46L238.1 429.3L238.2 429.63L238.42 430.61L238.5 429.4L238.64 428.32L238.75 428.56L238.86 429.86L238.9 430.79L239.08 433.65L239.3 430.58L239.52 432.31L239.7 431.41L239.74 431.09L239.96 430.44L240 430.33L240.1 432.39L240.18 434.42L240.4 434.73L240.5 435.26L240.62 434.43L240.62 435.03L240.84 435.09L240.9 435.26L241.06 435.48L241.25 435.57L241.28 434.74L241.3 434.99L241.5 435.47L241.7 434.73L241.72 435.21L241.94 432.79L242.1 433.57L242.16 434.28L242.38 430.4L242.5 428.76L242.6 427.52L242.82 432.72L242.9 430.77L243.04 427.18L243.12 426.68L243.26 431.61L243.3 431.36L243.48 431.96L243.7 431.01L243.75 432.93L243.92 429.26L244.1 431.92L244.14 430.52L244.36 430.94L244.5 431.65L244.58 431.74L244.8 431L244.9 430.7L245 430.89L245.02 431.9L245.24 434.12L245.3 434.99L245.46 434.54L245.68 433.76L245.7 433.46L245.9 432.87L246.1 432.64L246.12 432.13L246.25 434.85L246.34 433.24L246.5 434.32L246.56 434.02L246.78 431.61L246.9 432.44L247 432.34L247.22 434.47L247.3 434.32L247.44 434.35L247.5 434.63L247.66 433.71L247.7 433.73L247.88 433.13L248.1 433.52L248.1 433.52L248.32 434.18L248.5 431.31L248.54 432.68L248.75 433.21L248.76 432.55L248.9 434.31L248.98 433.72L249.2 431.23L249.3 431.56L249.42 433.27L249.64 434.2L249.7 433.44L249.86 430.31L250 432.6L250.08 432.89L250.1 432.82L250.3 433.92L250.5 432.51L250.52 433.03L250.74 432.04L250.9 430.92L250.96 432.83L251.18 434.83L251.25 434.71L251.3 433.8L251.4 432.36L251.62 432.34L251.7 432.36L251.84 432.44L252.06 432.35L252.1 432.38L252.28 433.56L252.5 432.85L252.72 434.78L252.9 435.17L252.94 434.36L253.16 433.15L253.3 432.91L253.38 434.29L253.6 433.86L253.7 434.78L253.75 434.36L253.82 433.63L254.04 433.32L254.1 433.33L254.26 433.22L254.48 433.75L254.5 433.93L254.7 434.96L254.9 433.22L254.92 434.3L255 432.08L255.14 434.99L255.3 433.76L255.36 435.7L255.58 435.26L255.7 434.25L255.8 435.33L256.02 431.91L256.1 432.74L256.24 433.9L256.25 432.15L256.46 435.06L256.5 434.26L256.68 432.07L256.9 434.48L256.9 434.48L257.12 431.9L257.3 432.65L257.34 434.05L257.5 431.76L257.56 430.18L257.7 431.36L257.78 431.96L258 431.32L258.1 432.68L258.22 434.67L258.44 430.86L258.5 430.94L258.66 431.96L258.75 432.18L258.88 434.75L258.9 433.62L259.1 430.17L259.3 432.01L259.32 433.25L259.54 433.1L259.7 434.86L259.76 434.38L259.98 435.49L260 433.04L260.1 434.81L260.2 434.43L260.42 433.74L260.5 434.9L260.64 433.8L260.86 432.09L260.9 433.03L261.08 434.49L261.25 434.93L261.3 432.99L261.52 432.86L261.7 433.76L261.74 435.46L261.96 431.97L262.1 432.26L262.18 431.75L262.4 431.66L262.5 435.32L262.62 435.11L262.84 433.87L262.9 433.88L263.06 434.78L263.28 432.88L263.3 431.83L263.5 435.18L263.7 434.01L263.72 434.82L263.75 435.04L263.94 434.78L264.1 433.83L264.16 434.88L264.38 434.56L264.5 434.12L264.6 434.28L264.82 435.14L264.9 435.83L265 434.84L265.3 431.6L265.38 430L265.7 437.33L265.75 437.5L266.1 436.76L266.25 436.25L266.5 437.09L266.88 436.88L266.9 436.88L267.3 435.61L267.5 434.38L267.7 434.33L268.1 433.91L268.12 433.12L268.5 435.02L268.75 435L268.9 433.96L269.3 435.35L269.38 435.62L269.7 436.36L270 436.25L270.1 435.13L270.5 435.07L270.62 435.62L270.9 435.11L271.25 435.62L271.3 435.71L271.7 434.8L272.1 434.94L272.5 435.38L272.9 435.86L273.3 435.85L273.7 435.45L274.1 434.87L274.5 434.89L274.9 435.09L275 435.38L275.3 435.51L275.7 436.19L276.1 436.55L276.5 435.58L276.9 434.75L277.3 436.16L277.5 435.38L277.7 434.91L278.1 435.37L278.5 434.97L278.9 436.12L279.3 435.17L279.7 435.54L280 435.38L280.1 435.57L280.5 435.4L280.9 435.39L281.3 435.58L281.7 434.15L282.1 435.31L282.5 435.38L282.9 435.32L283.12 434.38L283.3 433.93L283.7 431.23L283.75 431.25L284.1 432.66L284.38 431.88L284.5 430.49L284.9 428.6L285 428.75L285.3 427.97L285.62 426.25L285.7 426.15L286.1 429.47L286.25 430L286.5 430.7L286.88 432.5L286.9 431.54L287.3 433.7L287.5 433.75L287.7 433.74L287.88 433.75L288.1 472.81L288.12 477.5L288.38 433.75L288.5 434.13L288.75 432.5L288.9 433.21L289.3 430.93L289.38 433.12L289.7 432.61L290 431.88L290.1 431.69L290.5 432.41L290.62 432.5L290.9 432.29L291.25 433.12L291.3 432.82L291.7 432.79L291.88 432.5L292.1 432.78L292.5 431.25L292.9 430.98L293.12 430.62L293.3 430.52L293.7 428.5L293.75 428.75L294.1 428.75L294.38 426.88L294.5 427.44L294.9 428.4L295 428.75L295.3 429.34L295.62 429.38L295.7 429.72L296.1 430.29L296.25 428.75L296.5 429.92L296.88 430L296.9 429.54L297.3 429.36L297.5 430.62L297.7 431.19L298.1 431.44L298.12 431.88L298.5 433.2L298.75 433.12L298.9 433.17L299.3 431.56L299.38 432.5L299.7 432.54L300 431.25L300.1 430.76L300.5 432.36L300.62 431.88L300.9 429.87L301.25 430L301.3 430.13L301.7 431.45L301.88 430.62L302.1 430.01L302.5 430L302.9 430.26L303.12 430.62" fill="none" stroke="#5c985c" stroke-opacity="0.9" stroke-width="1.25" stroke-linejoin="round"/></g>
<rect x="26.3" y="409.6" width="290.2" height="103.2" fill="none" stroke="#555" stroke-width="0.7"/>
<path d="M39.6 512.8v2.3M72.32 512.8v2.3M105.58 512.8v2.3M138.3 512.8v2.3M171.56 512.8v2.3M204.46 512.8v2.3M237.72 512.8v2.3M270.44 512.8v2.3M303.7 512.8v2.3M26.3 505.14h-2.3M26.3 481.86h-2.3M26.3 458.58h-2.3M26.3 435.3h-2.3M26.3 412.02h-2.3" stroke="#555" stroke-width="0.7" fill="none"/>
<text x="39.6" y="522.6" text-anchor="middle" textLength="25.6" lengthAdjust="spacingAndGlyphs">2010-01</text>
<text x="72.32" y="522.6" text-anchor="middle" textLength="25.6" lengthAdjust="spacingAndGlyphs">2010-07</text>
<text x="105.58" y="522.6" text-anchor="middle" textLength="25.6" lengthAdjust="spacingAndGlyphs">2011-01</text>
<text x="138.3" y="522.6" text-anchor="middle" textLength="25.6" lengthAdjust="spacingAndGlyphs">2011-07</text>
<text x="171.56" y="522.6" text-anchor="middle" textLength="25.6" lengthAdjust="spacingAndGlyphs">2012-01</text>
<text x="204.46" y="522.6" text-anchor="middle" textLength="25.6" lengthAdjust="spacingAndGlyphs">2012-07</text>
<text x="237.72" y="522.6" text-anchor="middle" textLength="25.6" lengthAdjust="spacingAndGlyphs">2013-01</text>
<text x="270.44" y="522.6" text-anchor="middle" textLength="25.6" lengthAdjust="spacingAndGlyphs">2013-07</text>
<text x="303.7" y="522.6" text-anchor="middle" textLength="25.6" lengthAdjust="spacingAndGlyphs">2014-01</text>
<text x="21.9" y="507.64" text-anchor="end" textLength="8.6" lengthAdjust="spacingAndGlyphs">−6</text>
<text x="21.9" y="484.36" text-anchor="end" textLength="8.6" lengthAdjust="spacingAndGlyphs">−4</text>
<text x="21.9" y="461.08" text-anchor="end" textLength="8.6" lengthAdjust="spacingAndGlyphs">−2</text>
<text x="21.9" y="437.8" text-anchor="end">0</text>
<text x="21.9" y="414.52" text-anchor="end">2</text>
<text x="171.4" y="405.1" text-anchor="middle" style="font-size:8.1px">(d)</text>
<text transform="translate(8.2 461.2) rotate(-90)" x="0" y="0" text-anchor="middle" textLength="54.1" lengthAdjust="spacingAndGlyphs">Difference (μg/L)</text>
<path d="M239.5 21.3H252.9" stroke="#222" stroke-width="1.1"/>
<rect x="239.5" y="29.1" width="13.4" height="4.7" fill="#ee7459"/>
<text x="257.9" y="23.9" textLength="30.3" lengthAdjust="spacingAndGlyphs">Observed</text>
<text x="257.9" y="33.6" textLength="52.8" lengthAdjust="spacingAndGlyphs">Simulated range</text>
</svg></body></html>
